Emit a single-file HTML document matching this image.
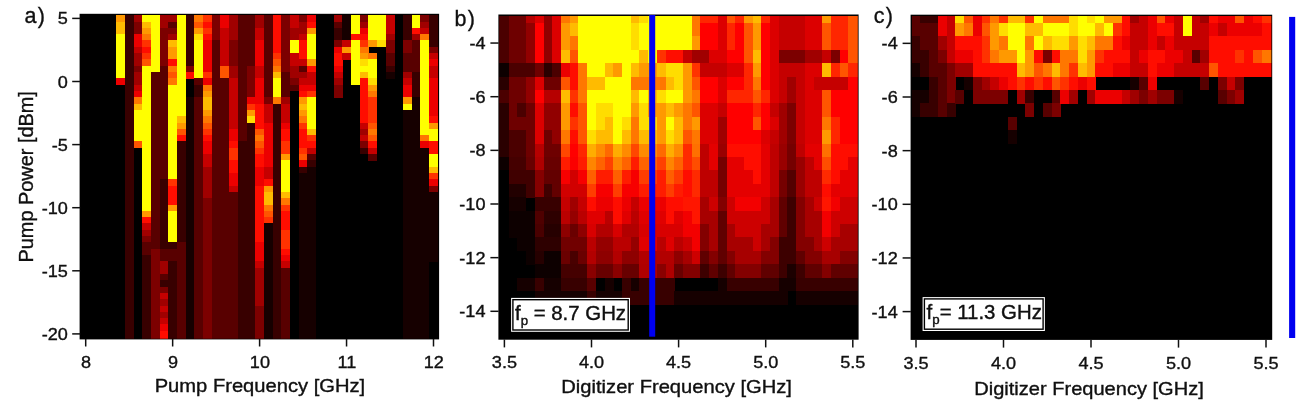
<!DOCTYPE html>
<html><head><meta charset="utf-8"><title>figure</title>
<style>html,body{margin:0;padding:0;background:#fff}svg{display:block}svg text{font-family:"Liberation Sans",sans-serif}</style></head>
<body>
<svg width="1306" height="409" viewBox="0 0 1306 409" >
<defs><filter id="bl" x="-2%" y="-2%" width="104%" height="104%"><feGaussianBlur stdDeviation="0.7"/></filter></defs>
<rect width="1306" height="409" fill="#fff"/>
<rect x="79.60" y="13.80" width="359.50" height="325.60" fill="#000"/>
<clipPath id="cpa"><rect x="80.40" y="14.60" width="357.90" height="324.20"/></clipPath>
<g clip-path="url(#cpa)"><g filter="url(#bl)" shape-rendering="crispEdges">
<rect x="116.13" y="14.80" width="8.99" height="7.06" fill="#ff9900"/>
<rect x="116.13" y="21.56" width="8.99" height="12.92" fill="#ffbb00"/>
<rect x="116.13" y="34.18" width="8.99" height="44.47" fill="#ffff00"/>
<rect x="116.13" y="78.35" width="8.99" height="6.61" fill="#ec0000"/>
<rect x="124.82" y="14.80" width="8.99" height="324.40" fill="#380000"/>
<rect x="133.52" y="14.80" width="9.00" height="7.06" fill="#a00000"/>
<rect x="133.52" y="21.56" width="9.00" height="12.92" fill="#7c0000"/>
<rect x="133.52" y="34.18" width="9.00" height="12.92" fill="#ec0000"/>
<rect x="133.52" y="46.80" width="9.00" height="6.61" fill="#c50000"/>
<rect x="133.52" y="53.11" width="9.00" height="12.92" fill="#a00000"/>
<rect x="133.52" y="65.73" width="9.00" height="6.61" fill="#7c0000"/>
<rect x="133.52" y="72.04" width="9.00" height="12.92" fill="#a00000"/>
<rect x="133.52" y="84.66" width="9.00" height="6.61" fill="#c50000"/>
<rect x="133.52" y="90.97" width="9.00" height="6.61" fill="#ec0000"/>
<rect x="133.52" y="97.28" width="9.00" height="6.61" fill="#ff7700"/>
<rect x="133.52" y="103.59" width="9.00" height="6.61" fill="#ffbb00"/>
<rect x="133.52" y="109.90" width="9.00" height="31.85" fill="#ffff00"/>
<rect x="133.52" y="141.45" width="9.00" height="6.61" fill="#ff5500"/>
<rect x="142.22" y="14.80" width="8.99" height="7.06" fill="#ffff00"/>
<rect x="142.22" y="21.56" width="8.99" height="6.61" fill="#ffbb00"/>
<rect x="142.22" y="27.87" width="8.99" height="6.61" fill="#ff9900"/>
<rect x="142.22" y="34.18" width="8.99" height="6.61" fill="#ff7700"/>
<rect x="142.22" y="40.49" width="8.99" height="6.61" fill="#ff3300"/>
<rect x="142.22" y="46.80" width="8.99" height="6.61" fill="#ff1100"/>
<rect x="142.22" y="53.11" width="8.99" height="6.61" fill="#ff3300"/>
<rect x="142.22" y="59.42" width="8.99" height="6.61" fill="#ff5500"/>
<rect x="142.22" y="65.73" width="8.99" height="145.43" fill="#ffff00"/>
<rect x="142.22" y="210.86" width="8.99" height="6.61" fill="#ff9900"/>
<rect x="142.22" y="217.17" width="8.99" height="6.61" fill="#ff1100"/>
<rect x="142.22" y="223.48" width="8.99" height="6.61" fill="#c50000"/>
<rect x="142.22" y="229.79" width="8.99" height="6.61" fill="#a00000"/>
<rect x="142.22" y="236.10" width="8.99" height="6.61" fill="#7c0000"/>
<rect x="142.22" y="242.41" width="8.99" height="12.92" fill="#590000"/>
<rect x="142.22" y="255.03" width="8.99" height="84.17" fill="#380000"/>
<rect x="150.91" y="14.80" width="8.99" height="57.54" fill="#ffff00"/>
<rect x="150.91" y="72.04" width="8.99" height="176.98" fill="#590000"/>
<rect x="150.91" y="248.72" width="8.99" height="90.48" fill="#7c0000"/>
<rect x="159.60" y="14.80" width="9.00" height="13.37" fill="#a00000"/>
<rect x="159.60" y="27.87" width="9.00" height="38.16" fill="#7c0000"/>
<rect x="159.60" y="65.73" width="9.00" height="113.88" fill="#590000"/>
<rect x="159.60" y="179.31" width="9.00" height="69.71" fill="#380000"/>
<rect x="159.60" y="248.72" width="9.00" height="12.92" fill="#590000"/>
<rect x="159.60" y="261.34" width="9.00" height="12.92" fill="#a00000"/>
<rect x="159.60" y="273.96" width="9.00" height="6.61" fill="#590000"/>
<rect x="159.60" y="280.27" width="9.00" height="6.61" fill="#380000"/>
<rect x="159.60" y="286.58" width="9.00" height="6.61" fill="#7c0000"/>
<rect x="159.60" y="292.89" width="9.00" height="6.61" fill="#c50000"/>
<rect x="159.60" y="299.20" width="9.00" height="6.61" fill="#a00000"/>
<rect x="159.60" y="305.51" width="9.00" height="6.61" fill="#c50000"/>
<rect x="159.60" y="311.82" width="9.00" height="6.61" fill="#a00000"/>
<rect x="159.60" y="318.13" width="9.00" height="6.61" fill="#c50000"/>
<rect x="159.60" y="324.44" width="9.00" height="6.61" fill="#ec0000"/>
<rect x="159.60" y="330.75" width="9.00" height="8.45" fill="#ff1100"/>
<rect x="168.30" y="14.80" width="8.99" height="7.06" fill="#a00000"/>
<rect x="168.30" y="21.56" width="8.99" height="6.61" fill="#590000"/>
<rect x="168.30" y="27.87" width="8.99" height="6.61" fill="#7c0000"/>
<rect x="168.30" y="34.18" width="8.99" height="6.61" fill="#a00000"/>
<rect x="168.30" y="40.49" width="8.99" height="6.61" fill="#ffbb00"/>
<rect x="168.30" y="46.80" width="8.99" height="12.92" fill="#ff9900"/>
<rect x="168.30" y="59.42" width="8.99" height="6.61" fill="#ff1100"/>
<rect x="168.30" y="65.73" width="8.99" height="6.61" fill="#ff7700"/>
<rect x="168.30" y="72.04" width="8.99" height="6.61" fill="#ff5500"/>
<rect x="168.30" y="78.35" width="8.99" height="6.61" fill="#ff7700"/>
<rect x="168.30" y="84.66" width="8.99" height="94.95" fill="#ffff00"/>
<rect x="168.30" y="179.31" width="8.99" height="6.61" fill="#ff3300"/>
<rect x="168.30" y="185.62" width="8.99" height="19.23" fill="#ff1100"/>
<rect x="168.30" y="204.55" width="8.99" height="6.61" fill="#ff9900"/>
<rect x="168.30" y="210.86" width="8.99" height="31.85" fill="#ffff00"/>
<rect x="168.30" y="242.41" width="8.99" height="6.61" fill="#380000"/>
<rect x="168.30" y="248.72" width="8.99" height="12.92" fill="#590000"/>
<rect x="168.30" y="261.34" width="8.99" height="77.86" fill="#380000"/>
<rect x="177.00" y="14.80" width="8.99" height="101.71" fill="#ffff00"/>
<rect x="177.00" y="116.21" width="8.99" height="6.61" fill="#ffbb00"/>
<rect x="177.00" y="122.52" width="8.99" height="6.61" fill="#ff9900"/>
<rect x="177.00" y="128.83" width="8.99" height="6.61" fill="#ff5500"/>
<rect x="177.00" y="135.14" width="8.99" height="6.61" fill="#ff1100"/>
<rect x="177.00" y="141.45" width="8.99" height="101.26" fill="#380000"/>
<rect x="177.00" y="242.41" width="8.99" height="96.79" fill="#590000"/>
<rect x="185.69" y="14.80" width="8.99" height="51.23" fill="#380000"/>
<rect x="185.69" y="65.73" width="8.99" height="6.61" fill="#7c0000"/>
<rect x="185.69" y="72.04" width="8.99" height="6.61" fill="#ff1100"/>
<rect x="185.69" y="97.28" width="8.99" height="241.92" fill="#190000"/>
<rect x="194.38" y="14.80" width="8.99" height="7.06" fill="#ff7700"/>
<rect x="194.38" y="21.56" width="8.99" height="6.61" fill="#ff5500"/>
<rect x="194.38" y="27.87" width="8.99" height="6.61" fill="#ff9900"/>
<rect x="194.38" y="34.18" width="8.99" height="6.61" fill="#ffdd00"/>
<rect x="194.38" y="40.49" width="8.99" height="38.16" fill="#ffff00"/>
<rect x="194.38" y="78.35" width="8.99" height="6.61" fill="#590000"/>
<rect x="194.38" y="84.66" width="8.99" height="12.92" fill="#380000"/>
<rect x="194.38" y="97.28" width="8.99" height="241.92" fill="#590000"/>
<rect x="203.08" y="14.80" width="9.00" height="7.06" fill="#ff3300"/>
<rect x="203.08" y="21.56" width="9.00" height="6.61" fill="#ff1100"/>
<rect x="203.08" y="27.87" width="9.00" height="6.61" fill="#ff3300"/>
<rect x="203.08" y="34.18" width="9.00" height="6.61" fill="#ff1100"/>
<rect x="203.08" y="40.49" width="9.00" height="31.85" fill="#ec0000"/>
<rect x="203.08" y="72.04" width="9.00" height="6.61" fill="#ff3300"/>
<rect x="203.08" y="78.35" width="9.00" height="6.61" fill="#ec0000"/>
<rect x="203.08" y="84.66" width="9.00" height="6.61" fill="#ff7700"/>
<rect x="203.08" y="90.97" width="9.00" height="6.61" fill="#ff9900"/>
<rect x="203.08" y="97.28" width="9.00" height="12.92" fill="#ffbb00"/>
<rect x="203.08" y="109.90" width="9.00" height="6.61" fill="#ff9900"/>
<rect x="203.08" y="116.21" width="9.00" height="6.61" fill="#ff7700"/>
<rect x="203.08" y="122.52" width="9.00" height="6.61" fill="#ff5500"/>
<rect x="203.08" y="128.83" width="9.00" height="6.61" fill="#ff3300"/>
<rect x="203.08" y="135.14" width="9.00" height="6.61" fill="#ff1100"/>
<rect x="203.08" y="141.45" width="9.00" height="12.92" fill="#ec0000"/>
<rect x="203.08" y="154.07" width="9.00" height="12.92" fill="#c50000"/>
<rect x="203.08" y="166.69" width="9.00" height="31.85" fill="#a00000"/>
<rect x="203.08" y="198.24" width="9.00" height="140.96" fill="#7c0000"/>
<rect x="211.78" y="14.80" width="8.99" height="25.99" fill="#7c0000"/>
<rect x="211.78" y="40.49" width="8.99" height="298.71" fill="#590000"/>
<rect x="220.47" y="14.80" width="8.99" height="13.37" fill="#ec0000"/>
<rect x="220.47" y="27.87" width="8.99" height="38.16" fill="#c50000"/>
<rect x="220.47" y="65.73" width="8.99" height="12.92" fill="#ff5500"/>
<rect x="220.47" y="78.35" width="8.99" height="260.85" fill="#590000"/>
<rect x="229.16" y="14.80" width="8.99" height="25.99" fill="#a00000"/>
<rect x="229.16" y="40.49" width="8.99" height="25.54" fill="#7c0000"/>
<rect x="229.16" y="65.73" width="8.99" height="12.92" fill="#a00000"/>
<rect x="229.16" y="78.35" width="8.99" height="50.78" fill="#c50000"/>
<rect x="229.16" y="128.83" width="8.99" height="12.92" fill="#ec0000"/>
<rect x="229.16" y="141.45" width="8.99" height="6.61" fill="#ff1100"/>
<rect x="229.16" y="147.76" width="8.99" height="12.92" fill="#ff3300"/>
<rect x="229.16" y="160.38" width="8.99" height="12.92" fill="#ff1100"/>
<rect x="229.16" y="173.00" width="8.99" height="12.92" fill="#ec0000"/>
<rect x="229.16" y="185.62" width="8.99" height="6.61" fill="#c50000"/>
<rect x="229.16" y="191.93" width="8.99" height="147.27" fill="#590000"/>
<rect x="237.86" y="14.80" width="9.00" height="126.95" fill="#590000"/>
<rect x="237.86" y="141.45" width="9.00" height="197.75" fill="#380000"/>
<rect x="246.56" y="14.80" width="8.99" height="51.23" fill="#590000"/>
<rect x="246.56" y="65.73" width="8.99" height="31.85" fill="#7c0000"/>
<rect x="246.56" y="97.28" width="8.99" height="6.61" fill="#ec0000"/>
<rect x="246.56" y="103.59" width="8.99" height="6.61" fill="#ff3300"/>
<rect x="246.56" y="109.90" width="8.99" height="6.61" fill="#ff9900"/>
<rect x="246.56" y="116.21" width="8.99" height="6.61" fill="#ffdd00"/>
<rect x="246.56" y="122.52" width="8.99" height="216.68" fill="#380000"/>
<rect x="255.25" y="14.80" width="8.99" height="13.37" fill="#a00000"/>
<rect x="255.25" y="27.87" width="8.99" height="12.92" fill="#c50000"/>
<rect x="255.25" y="40.49" width="8.99" height="25.54" fill="#ec0000"/>
<rect x="255.25" y="65.73" width="8.99" height="12.92" fill="#c50000"/>
<rect x="255.25" y="78.35" width="8.99" height="25.54" fill="#ec0000"/>
<rect x="255.25" y="103.59" width="8.99" height="25.54" fill="#ff1100"/>
<rect x="255.25" y="128.83" width="8.99" height="6.61" fill="#ff5500"/>
<rect x="255.25" y="135.14" width="8.99" height="6.61" fill="#ff7700"/>
<rect x="255.25" y="141.45" width="8.99" height="6.61" fill="#ff5500"/>
<rect x="255.25" y="147.76" width="8.99" height="6.61" fill="#ff3300"/>
<rect x="255.25" y="154.07" width="8.99" height="12.92" fill="#ff1100"/>
<rect x="255.25" y="166.69" width="8.99" height="19.23" fill="#ec0000"/>
<rect x="255.25" y="185.62" width="8.99" height="57.09" fill="#ff1100"/>
<rect x="255.25" y="242.41" width="8.99" height="19.23" fill="#ec0000"/>
<rect x="255.25" y="261.34" width="8.99" height="6.61" fill="#c50000"/>
<rect x="255.25" y="267.65" width="8.99" height="38.16" fill="#a00000"/>
<rect x="255.25" y="305.51" width="8.99" height="33.69" fill="#7c0000"/>
<rect x="263.94" y="14.80" width="8.99" height="82.78" fill="#590000"/>
<rect x="263.94" y="97.28" width="8.99" height="6.61" fill="#7c0000"/>
<rect x="263.94" y="103.59" width="8.99" height="19.23" fill="#c50000"/>
<rect x="263.94" y="122.52" width="8.99" height="44.47" fill="#ec0000"/>
<rect x="263.94" y="166.69" width="8.99" height="12.92" fill="#c50000"/>
<rect x="263.94" y="179.31" width="8.99" height="6.61" fill="#ff1100"/>
<rect x="263.94" y="185.62" width="8.99" height="6.61" fill="#ff9900"/>
<rect x="263.94" y="191.93" width="8.99" height="12.92" fill="#ffbb00"/>
<rect x="263.94" y="204.55" width="8.99" height="6.61" fill="#ff7700"/>
<rect x="263.94" y="210.86" width="8.99" height="6.61" fill="#ff5500"/>
<rect x="263.94" y="217.17" width="8.99" height="6.61" fill="#ff3300"/>
<rect x="263.94" y="223.48" width="8.99" height="115.72" fill="#190000"/>
<rect x="272.64" y="14.80" width="9.00" height="38.61" fill="#ff1100"/>
<rect x="272.64" y="53.11" width="9.00" height="6.61" fill="#ff3300"/>
<rect x="272.64" y="59.42" width="9.00" height="6.61" fill="#ff5500"/>
<rect x="272.64" y="65.73" width="9.00" height="6.61" fill="#ff7700"/>
<rect x="272.64" y="72.04" width="9.00" height="6.61" fill="#ffbb00"/>
<rect x="272.64" y="78.35" width="9.00" height="19.23" fill="#ffff00"/>
<rect x="272.64" y="97.28" width="9.00" height="6.61" fill="#ff7700"/>
<rect x="272.64" y="103.59" width="9.00" height="235.61" fill="#380000"/>
<rect x="281.34" y="14.80" width="8.99" height="57.54" fill="#7c0000"/>
<rect x="281.34" y="72.04" width="8.99" height="25.54" fill="#590000"/>
<rect x="281.34" y="97.28" width="8.99" height="6.61" fill="#a00000"/>
<rect x="281.34" y="103.59" width="8.99" height="19.23" fill="#c50000"/>
<rect x="281.34" y="122.52" width="8.99" height="6.61" fill="#ec0000"/>
<rect x="281.34" y="128.83" width="8.99" height="12.92" fill="#ff1100"/>
<rect x="281.34" y="141.45" width="8.99" height="12.92" fill="#ff3300"/>
<rect x="281.34" y="154.07" width="8.99" height="6.61" fill="#ff9900"/>
<rect x="281.34" y="160.38" width="8.99" height="31.85" fill="#ffff00"/>
<rect x="281.34" y="191.93" width="8.99" height="6.61" fill="#ffbb00"/>
<rect x="281.34" y="198.24" width="8.99" height="6.61" fill="#ff7700"/>
<rect x="281.34" y="204.55" width="8.99" height="6.61" fill="#ff3300"/>
<rect x="281.34" y="210.86" width="8.99" height="19.23" fill="#ff1100"/>
<rect x="281.34" y="229.79" width="8.99" height="19.23" fill="#ff3300"/>
<rect x="281.34" y="248.72" width="8.99" height="6.61" fill="#ff1100"/>
<rect x="281.34" y="255.03" width="8.99" height="6.61" fill="#ec0000"/>
<rect x="281.34" y="261.34" width="8.99" height="6.61" fill="#c50000"/>
<rect x="281.34" y="267.65" width="8.99" height="71.55" fill="#590000"/>
<rect x="290.03" y="14.80" width="9.00" height="13.37" fill="#c50000"/>
<rect x="290.03" y="27.87" width="9.00" height="12.92" fill="#a00000"/>
<rect x="290.03" y="40.49" width="9.00" height="12.92" fill="#ffff00"/>
<rect x="290.03" y="53.11" width="9.00" height="12.92" fill="#c50000"/>
<rect x="290.03" y="65.73" width="9.00" height="12.92" fill="#a00000"/>
<rect x="290.03" y="78.35" width="9.00" height="6.61" fill="#7c0000"/>
<rect x="290.03" y="84.66" width="9.00" height="6.61" fill="#590000"/>
<rect x="298.73" y="14.80" width="8.99" height="7.06" fill="#7c0000"/>
<rect x="298.73" y="21.56" width="8.99" height="12.92" fill="#a00000"/>
<rect x="298.73" y="34.18" width="8.99" height="6.61" fill="#c50000"/>
<rect x="298.73" y="40.49" width="8.99" height="19.23" fill="#ff1100"/>
<rect x="298.73" y="59.42" width="8.99" height="6.61" fill="#c50000"/>
<rect x="298.73" y="65.73" width="8.99" height="6.61" fill="#590000"/>
<rect x="298.73" y="72.04" width="8.99" height="6.61" fill="#a00000"/>
<rect x="298.73" y="78.35" width="8.99" height="6.61" fill="#c50000"/>
<rect x="298.73" y="84.66" width="8.99" height="6.61" fill="#ec0000"/>
<rect x="298.73" y="90.97" width="8.99" height="6.61" fill="#ff1100"/>
<rect x="298.73" y="97.28" width="8.99" height="6.61" fill="#ff9900"/>
<rect x="298.73" y="103.59" width="8.99" height="6.61" fill="#ffbb00"/>
<rect x="298.73" y="109.90" width="8.99" height="6.61" fill="#ff9900"/>
<rect x="298.73" y="116.21" width="8.99" height="6.61" fill="#ff7700"/>
<rect x="298.73" y="122.52" width="8.99" height="6.61" fill="#ff3300"/>
<rect x="298.73" y="128.83" width="8.99" height="19.23" fill="#ff1100"/>
<rect x="298.73" y="147.76" width="8.99" height="6.61" fill="#ff3300"/>
<rect x="298.73" y="154.07" width="8.99" height="6.61" fill="#ff5500"/>
<rect x="298.73" y="160.38" width="8.99" height="6.61" fill="#ec0000"/>
<rect x="298.73" y="166.69" width="8.99" height="6.61" fill="#380000"/>
<rect x="298.73" y="173.00" width="8.99" height="166.20" fill="#190000"/>
<rect x="307.42" y="14.80" width="9.00" height="7.06" fill="#ec0000"/>
<rect x="307.42" y="21.56" width="9.00" height="6.61" fill="#ff1100"/>
<rect x="307.42" y="27.87" width="9.00" height="6.61" fill="#ff9900"/>
<rect x="307.42" y="34.18" width="9.00" height="25.54" fill="#ffff00"/>
<rect x="307.42" y="59.42" width="9.00" height="6.61" fill="#ff9900"/>
<rect x="307.42" y="65.73" width="9.00" height="6.61" fill="#ff1100"/>
<rect x="307.42" y="72.04" width="9.00" height="12.92" fill="#c50000"/>
<rect x="307.42" y="84.66" width="9.00" height="6.61" fill="#ec0000"/>
<rect x="307.42" y="90.97" width="9.00" height="6.61" fill="#ff3300"/>
<rect x="307.42" y="97.28" width="9.00" height="31.85" fill="#ffff00"/>
<rect x="307.42" y="128.83" width="9.00" height="6.61" fill="#ffbb00"/>
<rect x="307.42" y="135.14" width="9.00" height="6.61" fill="#ff3300"/>
<rect x="307.42" y="141.45" width="9.00" height="6.61" fill="#ff1100"/>
<rect x="307.42" y="147.76" width="9.00" height="6.61" fill="#c50000"/>
<rect x="307.42" y="154.07" width="9.00" height="6.61" fill="#590000"/>
<rect x="307.42" y="160.38" width="9.00" height="6.61" fill="#380000"/>
<rect x="307.42" y="166.69" width="9.00" height="172.51" fill="#190000"/>
<rect x="333.50" y="14.80" width="9.00" height="7.06" fill="#a00000"/>
<rect x="333.50" y="21.56" width="9.00" height="6.61" fill="#590000"/>
<rect x="333.50" y="27.87" width="9.00" height="12.92" fill="#380000"/>
<rect x="333.50" y="40.49" width="9.00" height="6.61" fill="#7c0000"/>
<rect x="333.50" y="46.80" width="9.00" height="6.61" fill="#ec0000"/>
<rect x="333.50" y="53.11" width="9.00" height="12.92" fill="#ff1100"/>
<rect x="333.50" y="65.73" width="9.00" height="6.61" fill="#ec0000"/>
<rect x="333.50" y="72.04" width="9.00" height="6.61" fill="#c50000"/>
<rect x="333.50" y="78.35" width="9.00" height="6.61" fill="#a00000"/>
<rect x="333.50" y="84.66" width="9.00" height="12.92" fill="#7c0000"/>
<rect x="342.20" y="14.80" width="8.99" height="25.99" fill="#190000"/>
<rect x="342.20" y="40.49" width="8.99" height="6.61" fill="#c50000"/>
<rect x="342.20" y="46.80" width="8.99" height="6.61" fill="#ff9900"/>
<rect x="342.20" y="53.11" width="8.99" height="6.61" fill="#c50000"/>
<rect x="350.89" y="14.80" width="9.00" height="19.68" fill="#ffff00"/>
<rect x="350.89" y="34.18" width="9.00" height="6.61" fill="#ff1100"/>
<rect x="350.89" y="40.49" width="9.00" height="44.47" fill="#ffff00"/>
<rect x="359.59" y="14.80" width="8.99" height="7.06" fill="#7c0000"/>
<rect x="359.59" y="21.56" width="8.99" height="6.61" fill="#a00000"/>
<rect x="359.59" y="27.87" width="8.99" height="6.61" fill="#ec0000"/>
<rect x="359.59" y="34.18" width="8.99" height="6.61" fill="#ff1100"/>
<rect x="359.59" y="40.49" width="8.99" height="6.61" fill="#ff3300"/>
<rect x="359.59" y="46.80" width="8.99" height="6.61" fill="#ff7700"/>
<rect x="359.59" y="53.11" width="8.99" height="6.61" fill="#ff9900"/>
<rect x="359.59" y="59.42" width="8.99" height="6.61" fill="#ffdd00"/>
<rect x="359.59" y="65.73" width="8.99" height="6.61" fill="#ffff00"/>
<rect x="359.59" y="72.04" width="8.99" height="6.61" fill="#ffbb00"/>
<rect x="359.59" y="78.35" width="8.99" height="44.47" fill="#ff1100"/>
<rect x="359.59" y="122.52" width="8.99" height="6.61" fill="#c50000"/>
<rect x="359.59" y="128.83" width="8.99" height="6.61" fill="#a00000"/>
<rect x="359.59" y="135.14" width="8.99" height="6.61" fill="#c50000"/>
<rect x="359.59" y="141.45" width="8.99" height="6.61" fill="#7c0000"/>
<rect x="359.59" y="147.76" width="8.99" height="6.61" fill="#380000"/>
<rect x="368.28" y="14.80" width="9.00" height="25.99" fill="#ffff00"/>
<rect x="368.28" y="40.49" width="9.00" height="6.61" fill="#ff9900"/>
<rect x="368.28" y="53.11" width="9.00" height="6.61" fill="#ff7700"/>
<rect x="368.28" y="59.42" width="9.00" height="19.23" fill="#ffff00"/>
<rect x="368.28" y="78.35" width="9.00" height="6.61" fill="#ffdd00"/>
<rect x="368.28" y="84.66" width="9.00" height="6.61" fill="#ff9900"/>
<rect x="368.28" y="90.97" width="9.00" height="6.61" fill="#ff7700"/>
<rect x="368.28" y="97.28" width="9.00" height="25.54" fill="#ff3300"/>
<rect x="368.28" y="122.52" width="9.00" height="6.61" fill="#ff5500"/>
<rect x="368.28" y="128.83" width="9.00" height="6.61" fill="#ff7700"/>
<rect x="368.28" y="135.14" width="9.00" height="6.61" fill="#ff5500"/>
<rect x="368.28" y="141.45" width="9.00" height="6.61" fill="#ff1100"/>
<rect x="368.28" y="147.76" width="9.00" height="6.61" fill="#c50000"/>
<rect x="368.28" y="154.07" width="9.00" height="6.61" fill="#590000"/>
<rect x="376.98" y="14.80" width="8.99" height="25.99" fill="#ffff00"/>
<rect x="376.98" y="40.49" width="8.99" height="6.61" fill="#ffdd00"/>
<rect x="385.67" y="14.80" width="9.00" height="19.68" fill="#c50000"/>
<rect x="385.67" y="34.18" width="9.00" height="6.61" fill="#a00000"/>
<rect x="385.67" y="40.49" width="9.00" height="12.92" fill="#7c0000"/>
<rect x="385.67" y="53.11" width="9.00" height="12.92" fill="#590000"/>
<rect x="385.67" y="65.73" width="9.00" height="6.61" fill="#380000"/>
<rect x="385.67" y="72.04" width="9.00" height="6.61" fill="#190000"/>
<rect x="403.07" y="14.80" width="8.99" height="25.99" fill="#380000"/>
<rect x="403.07" y="40.49" width="8.99" height="12.92" fill="#7c0000"/>
<rect x="403.07" y="53.11" width="8.99" height="19.23" fill="#590000"/>
<rect x="403.07" y="72.04" width="8.99" height="6.61" fill="#a00000"/>
<rect x="403.07" y="78.35" width="8.99" height="6.61" fill="#c50000"/>
<rect x="403.07" y="84.66" width="8.99" height="12.92" fill="#ec0000"/>
<rect x="403.07" y="97.28" width="8.99" height="6.61" fill="#ff9900"/>
<rect x="403.07" y="103.59" width="8.99" height="6.61" fill="#ffff00"/>
<rect x="403.07" y="109.90" width="8.99" height="229.30" fill="#190000"/>
<rect x="411.76" y="14.80" width="9.00" height="13.37" fill="#ffff00"/>
<rect x="411.76" y="27.87" width="9.00" height="6.61" fill="#ff1100"/>
<rect x="411.76" y="34.18" width="9.00" height="6.61" fill="#a00000"/>
<rect x="411.76" y="40.49" width="9.00" height="31.85" fill="#590000"/>
<rect x="411.76" y="72.04" width="9.00" height="25.54" fill="#380000"/>
<rect x="411.76" y="97.28" width="9.00" height="241.92" fill="#190000"/>
<rect x="420.46" y="14.80" width="8.99" height="7.06" fill="#7c0000"/>
<rect x="420.46" y="21.56" width="8.99" height="6.61" fill="#a00000"/>
<rect x="420.46" y="27.87" width="8.99" height="6.61" fill="#c50000"/>
<rect x="420.46" y="34.18" width="8.99" height="6.61" fill="#ff7700"/>
<rect x="420.46" y="40.49" width="8.99" height="94.95" fill="#ffff00"/>
<rect x="420.46" y="135.14" width="8.99" height="6.61" fill="#ff7700"/>
<rect x="420.46" y="141.45" width="8.99" height="6.61" fill="#ec0000"/>
<rect x="420.46" y="147.76" width="8.99" height="191.44" fill="#190000"/>
<rect x="429.15" y="14.80" width="9.25" height="32.30" fill="#380000"/>
<rect x="429.15" y="46.80" width="9.25" height="6.61" fill="#7c0000"/>
<rect x="429.15" y="53.11" width="9.25" height="6.61" fill="#c50000"/>
<rect x="429.15" y="59.42" width="9.25" height="6.61" fill="#ec0000"/>
<rect x="429.15" y="65.73" width="9.25" height="12.92" fill="#c50000"/>
<rect x="429.15" y="78.35" width="9.25" height="38.16" fill="#ec0000"/>
<rect x="429.15" y="116.21" width="9.25" height="6.61" fill="#ff1100"/>
<rect x="429.15" y="122.52" width="9.25" height="6.61" fill="#ff9900"/>
<rect x="429.15" y="128.83" width="9.25" height="12.92" fill="#ffff00"/>
<rect x="429.15" y="141.45" width="9.25" height="12.92" fill="#ff1100"/>
<rect x="429.15" y="154.07" width="9.25" height="12.92" fill="#ffff00"/>
<rect x="429.15" y="166.69" width="9.25" height="6.61" fill="#ffbb00"/>
<rect x="429.15" y="173.00" width="9.25" height="6.61" fill="#ff3300"/>
<rect x="429.15" y="179.31" width="9.25" height="6.61" fill="#ec0000"/>
<rect x="429.15" y="185.62" width="9.25" height="6.61" fill="#7c0000"/>
<rect x="429.15" y="191.93" width="9.25" height="69.71" fill="#190000"/>
</g></g>
<rect x="498.40" y="14.50" width="360.20" height="325.20" fill="#000"/>
<clipPath id="cpb"><rect x="499.20" y="15.30" width="358.60" height="323.80"/></clipPath>
<g clip-path="url(#cpb)"><g filter="url(#bl)" shape-rendering="crispEdges">
<rect x="499.40" y="15.50" width="9.66" height="47.91" fill="#4b0000"/>
<rect x="499.40" y="63.11" width="9.66" height="13.71" fill="#0e0000"/>
<rect x="499.40" y="76.52" width="9.66" height="13.71" fill="#2b0000"/>
<rect x="499.40" y="89.93" width="9.66" height="13.71" fill="#4b0000"/>
<rect x="499.40" y="103.34" width="9.66" height="53.94" fill="#2b0000"/>
<rect x="499.40" y="156.98" width="9.66" height="13.71" fill="#090000"/>
<rect x="499.40" y="170.39" width="9.66" height="27.12" fill="#060000"/>
<rect x="508.76" y="15.50" width="9.01" height="47.91" fill="#6e0000"/>
<rect x="508.76" y="63.11" width="9.01" height="13.71" fill="#4b0000"/>
<rect x="508.76" y="76.52" width="9.01" height="53.94" fill="#6e0000"/>
<rect x="508.76" y="130.16" width="9.01" height="27.12" fill="#4b0000"/>
<rect x="508.76" y="156.98" width="9.01" height="13.71" fill="#450000"/>
<rect x="508.76" y="170.39" width="9.01" height="13.71" fill="#410000"/>
<rect x="508.76" y="183.80" width="9.01" height="13.71" fill="#220000"/>
<rect x="508.76" y="197.21" width="9.01" height="13.71" fill="#190000"/>
<rect x="508.76" y="210.62" width="9.01" height="13.71" fill="#110000"/>
<rect x="508.76" y="224.03" width="9.01" height="13.71" fill="#0b0000"/>
<rect x="517.47" y="15.50" width="9.01" height="47.91" fill="#6e0000"/>
<rect x="517.47" y="63.11" width="9.01" height="13.71" fill="#4b0000"/>
<rect x="517.47" y="76.52" width="9.01" height="27.12" fill="#6e0000"/>
<rect x="517.47" y="103.34" width="9.01" height="13.71" fill="#4b0000"/>
<rect x="517.47" y="116.75" width="9.01" height="13.71" fill="#6e0000"/>
<rect x="517.47" y="130.16" width="9.01" height="27.12" fill="#4b0000"/>
<rect x="517.47" y="156.98" width="9.01" height="13.71" fill="#450000"/>
<rect x="517.47" y="170.39" width="9.01" height="13.71" fill="#410000"/>
<rect x="517.47" y="183.80" width="9.01" height="13.71" fill="#220000"/>
<rect x="517.47" y="197.21" width="9.01" height="13.71" fill="#190000"/>
<rect x="517.47" y="210.62" width="9.01" height="13.71" fill="#110000"/>
<rect x="517.47" y="224.03" width="9.01" height="13.71" fill="#0b0000"/>
<rect x="517.47" y="237.44" width="9.01" height="13.71" fill="#110000"/>
<rect x="517.47" y="277.67" width="9.01" height="13.71" fill="#190000"/>
<rect x="526.18" y="15.50" width="9.01" height="7.68" fill="#b60000"/>
<rect x="526.18" y="22.88" width="9.01" height="40.53" fill="#910000"/>
<rect x="526.18" y="63.11" width="9.01" height="13.71" fill="#4b0000"/>
<rect x="526.18" y="76.52" width="9.01" height="27.12" fill="#910000"/>
<rect x="526.18" y="103.34" width="9.01" height="53.94" fill="#6e0000"/>
<rect x="526.18" y="156.98" width="9.01" height="13.71" fill="#670000"/>
<rect x="526.18" y="170.39" width="9.01" height="27.12" fill="#410000"/>
<rect x="526.18" y="210.62" width="9.01" height="13.71" fill="#110000"/>
<rect x="526.18" y="224.03" width="9.01" height="13.71" fill="#0b0000"/>
<rect x="526.18" y="237.44" width="9.01" height="13.71" fill="#110000"/>
<rect x="526.18" y="250.85" width="9.01" height="13.71" fill="#0b0000"/>
<rect x="526.18" y="277.67" width="9.01" height="13.71" fill="#190000"/>
<rect x="534.89" y="15.50" width="9.01" height="7.68" fill="#dc0000"/>
<rect x="534.89" y="22.88" width="9.01" height="40.53" fill="#ff0300"/>
<rect x="534.89" y="63.11" width="9.01" height="13.71" fill="#6e0000"/>
<rect x="534.89" y="76.52" width="9.01" height="13.71" fill="#dc0000"/>
<rect x="534.89" y="89.93" width="9.01" height="13.71" fill="#ff0300"/>
<rect x="534.89" y="103.34" width="9.01" height="40.53" fill="#dc0000"/>
<rect x="534.89" y="143.57" width="9.01" height="13.71" fill="#b60000"/>
<rect x="534.89" y="156.98" width="9.01" height="13.71" fill="#af0000"/>
<rect x="534.89" y="170.39" width="9.01" height="27.12" fill="#860000"/>
<rect x="534.89" y="197.21" width="9.01" height="13.71" fill="#380000"/>
<rect x="534.89" y="210.62" width="9.01" height="13.71" fill="#4f0000"/>
<rect x="534.89" y="224.03" width="9.01" height="13.71" fill="#480000"/>
<rect x="534.89" y="237.44" width="9.01" height="13.71" fill="#2e0000"/>
<rect x="534.89" y="250.85" width="9.01" height="13.71" fill="#280000"/>
<rect x="534.89" y="264.26" width="9.01" height="13.71" fill="#090000"/>
<rect x="534.89" y="277.67" width="9.01" height="13.71" fill="#380000"/>
<rect x="534.89" y="291.08" width="9.01" height="27.12" fill="#190000"/>
<rect x="543.60" y="15.50" width="9.01" height="47.91" fill="#910000"/>
<rect x="543.60" y="63.11" width="9.01" height="13.71" fill="#2b0000"/>
<rect x="543.60" y="76.52" width="9.01" height="13.71" fill="#6e0000"/>
<rect x="543.60" y="89.93" width="9.01" height="13.71" fill="#b60000"/>
<rect x="543.60" y="103.34" width="9.01" height="27.12" fill="#910000"/>
<rect x="543.60" y="130.16" width="9.01" height="27.12" fill="#6e0000"/>
<rect x="543.60" y="156.98" width="9.01" height="13.71" fill="#670000"/>
<rect x="543.60" y="170.39" width="9.01" height="13.71" fill="#630000"/>
<rect x="543.60" y="183.80" width="9.01" height="13.71" fill="#410000"/>
<rect x="543.60" y="197.21" width="9.01" height="13.71" fill="#380000"/>
<rect x="543.60" y="210.62" width="9.01" height="13.71" fill="#2e0000"/>
<rect x="543.60" y="224.03" width="9.01" height="13.71" fill="#280000"/>
<rect x="543.60" y="237.44" width="9.01" height="13.71" fill="#2e0000"/>
<rect x="543.60" y="250.85" width="9.01" height="13.71" fill="#0b0000"/>
<rect x="543.60" y="264.26" width="9.01" height="13.71" fill="#090000"/>
<rect x="543.60" y="277.67" width="9.01" height="27.12" fill="#190000"/>
<rect x="552.31" y="15.50" width="9.01" height="47.91" fill="#dc0000"/>
<rect x="552.31" y="63.11" width="9.01" height="13.71" fill="#4b0000"/>
<rect x="552.31" y="76.52" width="9.01" height="13.71" fill="#6e0000"/>
<rect x="552.31" y="89.93" width="9.01" height="13.71" fill="#b60000"/>
<rect x="552.31" y="103.34" width="9.01" height="40.53" fill="#910000"/>
<rect x="552.31" y="143.57" width="9.01" height="13.71" fill="#6e0000"/>
<rect x="552.31" y="156.98" width="9.01" height="13.71" fill="#670000"/>
<rect x="552.31" y="170.39" width="9.01" height="27.12" fill="#630000"/>
<rect x="552.31" y="197.21" width="9.01" height="13.71" fill="#380000"/>
<rect x="552.31" y="210.62" width="9.01" height="13.71" fill="#2e0000"/>
<rect x="552.31" y="224.03" width="9.01" height="13.71" fill="#280000"/>
<rect x="552.31" y="237.44" width="9.01" height="13.71" fill="#2e0000"/>
<rect x="552.31" y="250.85" width="9.01" height="13.71" fill="#0b0000"/>
<rect x="552.31" y="264.26" width="9.01" height="13.71" fill="#090000"/>
<rect x="552.31" y="277.67" width="9.01" height="27.12" fill="#190000"/>
<rect x="561.02" y="15.50" width="9.01" height="7.68" fill="#ff7700"/>
<rect x="561.02" y="22.88" width="9.01" height="27.12" fill="#ff9900"/>
<rect x="561.02" y="49.70" width="9.01" height="13.71" fill="#ffbb00"/>
<rect x="561.02" y="63.11" width="9.01" height="13.71" fill="#ec0000"/>
<rect x="561.02" y="76.52" width="9.01" height="13.71" fill="#ff5500"/>
<rect x="561.02" y="89.93" width="9.01" height="13.71" fill="#ffbb00"/>
<rect x="561.02" y="103.34" width="9.01" height="27.12" fill="#ff9900"/>
<rect x="561.02" y="130.16" width="9.01" height="13.71" fill="#ff7700"/>
<rect x="561.02" y="143.57" width="9.01" height="13.71" fill="#ff4700"/>
<rect x="561.02" y="156.98" width="9.01" height="13.71" fill="#ff1f00"/>
<rect x="561.02" y="170.39" width="9.01" height="13.71" fill="#f70000"/>
<rect x="561.02" y="183.80" width="9.01" height="13.71" fill="#d10000"/>
<rect x="561.02" y="197.21" width="9.01" height="13.71" fill="#c50000"/>
<rect x="561.02" y="210.62" width="9.01" height="13.71" fill="#ba0000"/>
<rect x="561.02" y="224.03" width="9.01" height="13.71" fill="#8e0000"/>
<rect x="561.02" y="237.44" width="9.01" height="13.71" fill="#710000"/>
<rect x="561.02" y="250.85" width="9.01" height="13.71" fill="#6a0000"/>
<rect x="561.02" y="264.26" width="9.01" height="13.71" fill="#450000"/>
<rect x="561.02" y="277.67" width="9.01" height="13.71" fill="#380000"/>
<rect x="561.02" y="291.08" width="9.01" height="13.71" fill="#190000"/>
<rect x="569.73" y="15.50" width="9.01" height="7.68" fill="#ff9900"/>
<rect x="569.73" y="22.88" width="9.01" height="13.71" fill="#ffbb00"/>
<rect x="569.73" y="36.29" width="9.01" height="13.71" fill="#ff7700"/>
<rect x="569.73" y="49.70" width="9.01" height="13.71" fill="#ff5500"/>
<rect x="569.73" y="63.11" width="9.01" height="27.12" fill="#ff1100"/>
<rect x="569.73" y="89.93" width="9.01" height="13.71" fill="#ff3300"/>
<rect x="569.73" y="103.34" width="9.01" height="13.71" fill="#ff1100"/>
<rect x="569.73" y="116.75" width="9.01" height="13.71" fill="#ff3300"/>
<rect x="569.73" y="130.16" width="9.01" height="13.71" fill="#ff1100"/>
<rect x="569.73" y="143.57" width="9.01" height="13.71" fill="#ff0300"/>
<rect x="569.73" y="156.98" width="9.01" height="13.71" fill="#fb0000"/>
<rect x="569.73" y="170.39" width="9.01" height="27.12" fill="#d10000"/>
<rect x="569.73" y="197.21" width="9.01" height="13.71" fill="#a00000"/>
<rect x="569.73" y="210.62" width="9.01" height="13.71" fill="#950000"/>
<rect x="569.73" y="224.03" width="9.01" height="13.71" fill="#6a0000"/>
<rect x="569.73" y="237.44" width="9.01" height="13.71" fill="#710000"/>
<rect x="569.73" y="250.85" width="9.01" height="13.71" fill="#480000"/>
<rect x="569.73" y="264.26" width="9.01" height="13.71" fill="#450000"/>
<rect x="569.73" y="277.67" width="9.01" height="13.71" fill="#380000"/>
<rect x="569.73" y="291.08" width="9.01" height="13.71" fill="#190000"/>
<rect x="578.44" y="15.50" width="9.01" height="47.91" fill="#ffff00"/>
<rect x="578.44" y="63.11" width="9.01" height="40.53" fill="#ff7700"/>
<rect x="578.44" y="103.34" width="9.01" height="40.53" fill="#ff5500"/>
<rect x="578.44" y="143.57" width="9.01" height="13.71" fill="#ff2500"/>
<rect x="578.44" y="156.98" width="9.01" height="13.71" fill="#ff1f00"/>
<rect x="578.44" y="170.39" width="9.01" height="13.71" fill="#f70000"/>
<rect x="578.44" y="183.80" width="9.01" height="13.71" fill="#d10000"/>
<rect x="578.44" y="197.21" width="9.01" height="13.71" fill="#c50000"/>
<rect x="578.44" y="210.62" width="9.01" height="13.71" fill="#ba0000"/>
<rect x="578.44" y="224.03" width="9.01" height="13.71" fill="#8e0000"/>
<rect x="578.44" y="237.44" width="9.01" height="13.71" fill="#710000"/>
<rect x="578.44" y="250.85" width="9.01" height="13.71" fill="#6a0000"/>
<rect x="578.44" y="264.26" width="9.01" height="13.71" fill="#450000"/>
<rect x="578.44" y="277.67" width="9.01" height="13.71" fill="#380000"/>
<rect x="578.44" y="291.08" width="9.01" height="13.71" fill="#190000"/>
<rect x="587.15" y="15.50" width="9.01" height="61.32" fill="#ffff00"/>
<rect x="587.15" y="76.52" width="9.01" height="13.71" fill="#ffbb00"/>
<rect x="587.15" y="89.93" width="9.01" height="40.53" fill="#ffff00"/>
<rect x="587.15" y="130.16" width="9.01" height="13.71" fill="#ffdd00"/>
<rect x="587.15" y="143.57" width="9.01" height="13.71" fill="#ffad00"/>
<rect x="587.15" y="156.98" width="9.01" height="13.71" fill="#ff8500"/>
<rect x="587.15" y="170.39" width="9.01" height="13.71" fill="#ff5f00"/>
<rect x="587.15" y="183.80" width="9.01" height="13.71" fill="#ff3d00"/>
<rect x="587.15" y="197.21" width="9.01" height="13.71" fill="#ff1100"/>
<rect x="587.15" y="210.62" width="9.01" height="13.71" fill="#e00000"/>
<rect x="587.15" y="224.03" width="9.01" height="13.71" fill="#d80000"/>
<rect x="587.15" y="237.44" width="9.01" height="13.71" fill="#ba0000"/>
<rect x="587.15" y="250.85" width="9.01" height="13.71" fill="#b20000"/>
<rect x="587.15" y="264.26" width="9.01" height="13.71" fill="#8a0000"/>
<rect x="587.15" y="277.67" width="9.01" height="13.71" fill="#590000"/>
<rect x="587.15" y="291.08" width="9.01" height="13.71" fill="#380000"/>
<rect x="595.86" y="15.50" width="9.01" height="61.32" fill="#ffff00"/>
<rect x="595.86" y="76.52" width="9.01" height="13.71" fill="#ffbb00"/>
<rect x="595.86" y="89.93" width="9.01" height="13.71" fill="#ffff00"/>
<rect x="595.86" y="103.34" width="9.01" height="27.12" fill="#ffdd00"/>
<rect x="595.86" y="130.16" width="9.01" height="13.71" fill="#ffbb00"/>
<rect x="595.86" y="143.57" width="9.01" height="13.71" fill="#ff8b00"/>
<rect x="595.86" y="156.98" width="9.01" height="13.71" fill="#ff6300"/>
<rect x="595.86" y="170.39" width="9.01" height="13.71" fill="#ff1b00"/>
<rect x="595.86" y="183.80" width="9.01" height="13.71" fill="#f70000"/>
<rect x="595.86" y="197.21" width="9.01" height="13.71" fill="#ec0000"/>
<rect x="595.86" y="210.62" width="9.01" height="13.71" fill="#e00000"/>
<rect x="595.86" y="224.03" width="9.01" height="13.71" fill="#b20000"/>
<rect x="595.86" y="237.44" width="9.01" height="13.71" fill="#950000"/>
<rect x="595.86" y="250.85" width="9.01" height="13.71" fill="#8e0000"/>
<rect x="595.86" y="264.26" width="9.01" height="13.71" fill="#670000"/>
<rect x="595.86" y="291.08" width="9.01" height="13.71" fill="#190000"/>
<rect x="604.57" y="15.50" width="9.01" height="47.91" fill="#ffff00"/>
<rect x="604.57" y="63.11" width="9.01" height="13.71" fill="#ffbb00"/>
<rect x="604.57" y="76.52" width="9.01" height="27.12" fill="#ffff00"/>
<rect x="604.57" y="103.34" width="9.01" height="13.71" fill="#ffdd00"/>
<rect x="604.57" y="116.75" width="9.01" height="27.12" fill="#ffbb00"/>
<rect x="604.57" y="143.57" width="9.01" height="13.71" fill="#ff6900"/>
<rect x="604.57" y="156.98" width="9.01" height="13.71" fill="#ff4100"/>
<rect x="604.57" y="170.39" width="9.01" height="13.71" fill="#ff1b00"/>
<rect x="604.57" y="183.80" width="9.01" height="13.71" fill="#f70000"/>
<rect x="604.57" y="197.21" width="9.01" height="13.71" fill="#ec0000"/>
<rect x="604.57" y="210.62" width="9.01" height="13.71" fill="#ba0000"/>
<rect x="604.57" y="224.03" width="9.01" height="13.71" fill="#b20000"/>
<rect x="604.57" y="237.44" width="9.01" height="13.71" fill="#950000"/>
<rect x="604.57" y="250.85" width="9.01" height="13.71" fill="#8e0000"/>
<rect x="604.57" y="264.26" width="9.01" height="13.71" fill="#670000"/>
<rect x="604.57" y="277.67" width="9.01" height="27.12" fill="#190000"/>
<rect x="613.28" y="15.50" width="9.01" height="47.91" fill="#ffff00"/>
<rect x="613.28" y="63.11" width="9.01" height="13.71" fill="#ff9900"/>
<rect x="613.28" y="76.52" width="9.01" height="67.35" fill="#ffff00"/>
<rect x="613.28" y="143.57" width="9.01" height="13.71" fill="#ffad00"/>
<rect x="613.28" y="156.98" width="9.01" height="13.71" fill="#ff8500"/>
<rect x="613.28" y="170.39" width="9.01" height="13.71" fill="#ff5f00"/>
<rect x="613.28" y="183.80" width="9.01" height="13.71" fill="#ff3d00"/>
<rect x="613.28" y="197.21" width="9.01" height="13.71" fill="#ff1100"/>
<rect x="613.28" y="210.62" width="9.01" height="13.71" fill="#ff0700"/>
<rect x="613.28" y="224.03" width="9.01" height="13.71" fill="#d80000"/>
<rect x="613.28" y="237.44" width="9.01" height="13.71" fill="#ba0000"/>
<rect x="613.28" y="250.85" width="9.01" height="13.71" fill="#b20000"/>
<rect x="613.28" y="264.26" width="9.01" height="13.71" fill="#8a0000"/>
<rect x="613.28" y="291.08" width="9.01" height="13.71" fill="#190000"/>
<rect x="621.99" y="15.50" width="9.01" height="101.55" fill="#ffff00"/>
<rect x="621.99" y="116.75" width="9.01" height="13.71" fill="#ffdd00"/>
<rect x="621.99" y="130.16" width="9.01" height="13.71" fill="#ffbb00"/>
<rect x="621.99" y="143.57" width="9.01" height="13.71" fill="#ff8b00"/>
<rect x="621.99" y="156.98" width="9.01" height="13.71" fill="#ff6300"/>
<rect x="621.99" y="170.39" width="9.01" height="13.71" fill="#ff1b00"/>
<rect x="621.99" y="183.80" width="9.01" height="13.71" fill="#f70000"/>
<rect x="621.99" y="197.21" width="9.01" height="13.71" fill="#ec0000"/>
<rect x="621.99" y="210.62" width="9.01" height="13.71" fill="#e00000"/>
<rect x="621.99" y="224.03" width="9.01" height="13.71" fill="#b20000"/>
<rect x="621.99" y="237.44" width="9.01" height="13.71" fill="#ba0000"/>
<rect x="621.99" y="250.85" width="9.01" height="13.71" fill="#8e0000"/>
<rect x="621.99" y="264.26" width="9.01" height="13.71" fill="#670000"/>
<rect x="621.99" y="277.67" width="9.01" height="27.12" fill="#380000"/>
<rect x="630.70" y="15.50" width="9.01" height="7.68" fill="#ffbb00"/>
<rect x="630.70" y="22.88" width="9.01" height="27.12" fill="#ffdd00"/>
<rect x="630.70" y="49.70" width="9.01" height="13.71" fill="#ffff00"/>
<rect x="630.70" y="63.11" width="9.01" height="13.71" fill="#ffbb00"/>
<rect x="630.70" y="76.52" width="9.01" height="13.71" fill="#ff7700"/>
<rect x="630.70" y="89.93" width="9.01" height="13.71" fill="#ffbb00"/>
<rect x="630.70" y="103.34" width="9.01" height="13.71" fill="#ff9900"/>
<rect x="630.70" y="116.75" width="9.01" height="27.12" fill="#ff7700"/>
<rect x="630.70" y="143.57" width="9.01" height="13.71" fill="#ff4700"/>
<rect x="630.70" y="156.98" width="9.01" height="13.71" fill="#ff1f00"/>
<rect x="630.70" y="170.39" width="9.01" height="27.12" fill="#f70000"/>
<rect x="630.70" y="197.21" width="9.01" height="13.71" fill="#c50000"/>
<rect x="630.70" y="210.62" width="9.01" height="13.71" fill="#ba0000"/>
<rect x="630.70" y="224.03" width="9.01" height="13.71" fill="#b20000"/>
<rect x="630.70" y="237.44" width="9.01" height="13.71" fill="#950000"/>
<rect x="630.70" y="250.85" width="9.01" height="13.71" fill="#8e0000"/>
<rect x="630.70" y="264.26" width="9.01" height="13.71" fill="#670000"/>
<rect x="630.70" y="277.67" width="9.01" height="13.71" fill="#190000"/>
<rect x="630.70" y="291.08" width="9.01" height="13.71" fill="#380000"/>
<rect x="639.41" y="15.50" width="9.01" height="7.68" fill="#ffdd00"/>
<rect x="639.41" y="22.88" width="9.01" height="27.12" fill="#ffff00"/>
<rect x="639.41" y="49.70" width="9.01" height="13.71" fill="#ffbb00"/>
<rect x="639.41" y="63.11" width="9.01" height="13.71" fill="#ff9900"/>
<rect x="639.41" y="76.52" width="9.01" height="13.71" fill="#ff7700"/>
<rect x="639.41" y="89.93" width="9.01" height="13.71" fill="#ffff00"/>
<rect x="639.41" y="103.34" width="9.01" height="27.12" fill="#ffdd00"/>
<rect x="639.41" y="130.16" width="9.01" height="13.71" fill="#ffbb00"/>
<rect x="639.41" y="143.57" width="9.01" height="13.71" fill="#ff8b00"/>
<rect x="639.41" y="156.98" width="9.01" height="13.71" fill="#ff6300"/>
<rect x="639.41" y="170.39" width="9.01" height="13.71" fill="#ff3d00"/>
<rect x="639.41" y="183.80" width="9.01" height="13.71" fill="#ff1b00"/>
<rect x="639.41" y="197.21" width="9.01" height="13.71" fill="#ec0000"/>
<rect x="639.41" y="210.62" width="9.01" height="13.71" fill="#e00000"/>
<rect x="639.41" y="224.03" width="9.01" height="13.71" fill="#d80000"/>
<rect x="639.41" y="237.44" width="9.01" height="13.71" fill="#e00000"/>
<rect x="639.41" y="250.85" width="9.01" height="13.71" fill="#b20000"/>
<rect x="639.41" y="264.26" width="9.01" height="13.71" fill="#af0000"/>
<rect x="639.41" y="277.67" width="9.01" height="27.12" fill="#380000"/>
<rect x="648.12" y="15.50" width="9.01" height="47.91" fill="#ffff00"/>
<rect x="648.12" y="63.11" width="9.01" height="13.71" fill="#ff9900"/>
<rect x="648.12" y="76.52" width="9.01" height="13.71" fill="#ff7700"/>
<rect x="648.12" y="89.93" width="9.01" height="13.71" fill="#ffbb00"/>
<rect x="648.12" y="103.34" width="9.01" height="13.71" fill="#ff9900"/>
<rect x="648.12" y="116.75" width="9.01" height="13.71" fill="#ffdd00"/>
<rect x="648.12" y="130.16" width="9.01" height="13.71" fill="#ffbb00"/>
<rect x="648.12" y="143.57" width="9.01" height="13.71" fill="#ff8b00"/>
<rect x="648.12" y="156.98" width="9.01" height="13.71" fill="#ff6300"/>
<rect x="648.12" y="170.39" width="9.01" height="13.71" fill="#ff3d00"/>
<rect x="648.12" y="183.80" width="9.01" height="13.71" fill="#ff1b00"/>
<rect x="648.12" y="197.21" width="9.01" height="13.71" fill="#ec0000"/>
<rect x="648.12" y="210.62" width="9.01" height="13.71" fill="#e00000"/>
<rect x="648.12" y="224.03" width="9.01" height="13.71" fill="#d80000"/>
<rect x="648.12" y="237.44" width="9.01" height="13.71" fill="#e00000"/>
<rect x="648.12" y="250.85" width="9.01" height="13.71" fill="#b20000"/>
<rect x="648.12" y="264.26" width="9.01" height="13.71" fill="#af0000"/>
<rect x="648.12" y="277.67" width="9.01" height="27.12" fill="#380000"/>
<rect x="656.83" y="15.50" width="9.01" height="34.50" fill="#ffff00"/>
<rect x="656.83" y="49.70" width="9.01" height="13.71" fill="#ff3300"/>
<rect x="656.83" y="63.11" width="9.01" height="13.71" fill="#ffbb00"/>
<rect x="656.83" y="76.52" width="9.01" height="13.71" fill="#ff7700"/>
<rect x="656.83" y="89.93" width="9.01" height="13.71" fill="#ffdd00"/>
<rect x="656.83" y="103.34" width="9.01" height="40.53" fill="#ff9900"/>
<rect x="656.83" y="143.57" width="9.01" height="13.71" fill="#ff6900"/>
<rect x="656.83" y="156.98" width="9.01" height="13.71" fill="#ff4100"/>
<rect x="656.83" y="170.39" width="9.01" height="27.12" fill="#ff1b00"/>
<rect x="656.83" y="197.21" width="9.01" height="13.71" fill="#ec0000"/>
<rect x="656.83" y="210.62" width="9.01" height="13.71" fill="#e00000"/>
<rect x="656.83" y="224.03" width="9.01" height="13.71" fill="#d80000"/>
<rect x="656.83" y="237.44" width="9.01" height="13.71" fill="#ba0000"/>
<rect x="656.83" y="250.85" width="9.01" height="13.71" fill="#b20000"/>
<rect x="656.83" y="264.26" width="9.01" height="13.71" fill="#8a0000"/>
<rect x="656.83" y="277.67" width="9.01" height="27.12" fill="#380000"/>
<rect x="665.54" y="15.50" width="9.01" height="34.50" fill="#ffff00"/>
<rect x="665.54" y="49.70" width="9.01" height="13.71" fill="#ff1100"/>
<rect x="665.54" y="63.11" width="9.01" height="13.71" fill="#ffdd00"/>
<rect x="665.54" y="76.52" width="9.01" height="13.71" fill="#ffbb00"/>
<rect x="665.54" y="89.93" width="9.01" height="13.71" fill="#ffff00"/>
<rect x="665.54" y="103.34" width="9.01" height="13.71" fill="#ffbb00"/>
<rect x="665.54" y="116.75" width="9.01" height="13.71" fill="#ffff00"/>
<rect x="665.54" y="130.16" width="9.01" height="13.71" fill="#ffdd00"/>
<rect x="665.54" y="143.57" width="9.01" height="13.71" fill="#ffad00"/>
<rect x="665.54" y="156.98" width="9.01" height="13.71" fill="#ff8500"/>
<rect x="665.54" y="170.39" width="9.01" height="13.71" fill="#ff5f00"/>
<rect x="665.54" y="183.80" width="9.01" height="13.71" fill="#ff3d00"/>
<rect x="665.54" y="197.21" width="9.01" height="13.71" fill="#ff1100"/>
<rect x="665.54" y="210.62" width="9.01" height="13.71" fill="#ff0700"/>
<rect x="665.54" y="224.03" width="9.01" height="13.71" fill="#d80000"/>
<rect x="665.54" y="237.44" width="9.01" height="13.71" fill="#e00000"/>
<rect x="665.54" y="250.85" width="9.01" height="13.71" fill="#b20000"/>
<rect x="665.54" y="264.26" width="9.01" height="13.71" fill="#af0000"/>
<rect x="665.54" y="277.67" width="9.01" height="27.12" fill="#380000"/>
<rect x="674.25" y="15.50" width="9.01" height="34.50" fill="#ffff00"/>
<rect x="674.25" y="49.70" width="9.01" height="13.71" fill="#ff1100"/>
<rect x="674.25" y="63.11" width="9.01" height="27.12" fill="#ffdd00"/>
<rect x="674.25" y="89.93" width="9.01" height="13.71" fill="#ffff00"/>
<rect x="674.25" y="103.34" width="9.01" height="13.71" fill="#ff9900"/>
<rect x="674.25" y="116.75" width="9.01" height="27.12" fill="#ffbb00"/>
<rect x="674.25" y="143.57" width="9.01" height="13.71" fill="#ff8b00"/>
<rect x="674.25" y="156.98" width="9.01" height="13.71" fill="#ff6300"/>
<rect x="674.25" y="170.39" width="9.01" height="13.71" fill="#ff3d00"/>
<rect x="674.25" y="183.80" width="9.01" height="13.71" fill="#ff1b00"/>
<rect x="674.25" y="197.21" width="9.01" height="13.71" fill="#ff1100"/>
<rect x="674.25" y="210.62" width="9.01" height="13.71" fill="#e00000"/>
<rect x="674.25" y="224.03" width="9.01" height="13.71" fill="#d80000"/>
<rect x="674.25" y="237.44" width="9.01" height="13.71" fill="#ba0000"/>
<rect x="674.25" y="250.85" width="9.01" height="13.71" fill="#8e0000"/>
<rect x="674.25" y="264.26" width="9.01" height="13.71" fill="#670000"/>
<rect x="674.25" y="291.08" width="9.01" height="13.71" fill="#190000"/>
<rect x="682.96" y="15.50" width="9.01" height="34.50" fill="#ffff00"/>
<rect x="682.96" y="49.70" width="9.01" height="13.71" fill="#c50000"/>
<rect x="682.96" y="63.11" width="9.01" height="40.53" fill="#ff9900"/>
<rect x="682.96" y="103.34" width="9.01" height="27.12" fill="#ff7700"/>
<rect x="682.96" y="130.16" width="9.01" height="13.71" fill="#ff5500"/>
<rect x="682.96" y="143.57" width="9.01" height="27.12" fill="#ff2c00"/>
<rect x="682.96" y="170.39" width="9.01" height="27.12" fill="#ff0a00"/>
<rect x="682.96" y="197.21" width="9.01" height="13.71" fill="#ff1800"/>
<rect x="682.96" y="210.62" width="9.01" height="27.12" fill="#f30000"/>
<rect x="682.96" y="237.44" width="9.01" height="13.71" fill="#cd0000"/>
<rect x="682.96" y="250.85" width="9.01" height="13.71" fill="#a70000"/>
<rect x="682.96" y="264.26" width="9.01" height="13.71" fill="#830000"/>
<rect x="682.96" y="291.08" width="9.01" height="13.71" fill="#190000"/>
<rect x="691.67" y="15.50" width="9.01" height="21.09" fill="#ff7700"/>
<rect x="691.67" y="36.29" width="9.01" height="13.71" fill="#ff9900"/>
<rect x="691.67" y="49.70" width="9.01" height="13.71" fill="#a00000"/>
<rect x="691.67" y="63.11" width="9.01" height="13.71" fill="#ff3300"/>
<rect x="691.67" y="76.52" width="9.01" height="13.71" fill="#ff5500"/>
<rect x="691.67" y="89.93" width="9.01" height="13.71" fill="#ff7700"/>
<rect x="691.67" y="103.34" width="9.01" height="13.71" fill="#ff5500"/>
<rect x="691.67" y="116.75" width="9.01" height="13.71" fill="#ff9900"/>
<rect x="691.67" y="130.16" width="9.01" height="13.71" fill="#ff7700"/>
<rect x="691.67" y="143.57" width="9.01" height="13.71" fill="#ff7000"/>
<rect x="691.67" y="156.98" width="9.01" height="13.71" fill="#ff4e00"/>
<rect x="691.67" y="170.39" width="9.01" height="27.12" fill="#ff2c00"/>
<rect x="691.67" y="197.21" width="9.01" height="27.12" fill="#ff1800"/>
<rect x="691.67" y="224.03" width="9.01" height="27.12" fill="#f30000"/>
<rect x="691.67" y="250.85" width="9.01" height="13.71" fill="#cd0000"/>
<rect x="691.67" y="264.26" width="9.01" height="13.71" fill="#830000"/>
<rect x="691.67" y="291.08" width="9.01" height="13.71" fill="#190000"/>
<rect x="700.38" y="15.50" width="9.01" height="7.68" fill="#ff2500"/>
<rect x="700.38" y="22.88" width="9.01" height="27.12" fill="#ff0300"/>
<rect x="700.38" y="49.70" width="9.01" height="13.71" fill="#a00000"/>
<rect x="700.38" y="63.11" width="9.01" height="13.71" fill="#c50000"/>
<rect x="700.38" y="76.52" width="9.01" height="27.12" fill="#ff0300"/>
<rect x="700.38" y="103.34" width="9.01" height="40.53" fill="#dc0000"/>
<rect x="700.38" y="143.57" width="9.01" height="53.94" fill="#be0000"/>
<rect x="700.38" y="197.21" width="9.01" height="27.12" fill="#a70000"/>
<rect x="700.38" y="224.03" width="9.01" height="27.12" fill="#830000"/>
<rect x="700.38" y="250.85" width="9.01" height="13.71" fill="#600000"/>
<rect x="700.38" y="264.26" width="9.01" height="13.71" fill="#3e0000"/>
<rect x="700.38" y="291.08" width="9.01" height="13.71" fill="#190000"/>
<rect x="709.09" y="15.50" width="9.01" height="7.68" fill="#ff2500"/>
<rect x="709.09" y="22.88" width="9.01" height="27.12" fill="#ff0300"/>
<rect x="709.09" y="49.70" width="9.01" height="13.71" fill="#dc0000"/>
<rect x="709.09" y="63.11" width="9.01" height="13.71" fill="#c50000"/>
<rect x="709.09" y="76.52" width="9.01" height="27.12" fill="#ff0300"/>
<rect x="709.09" y="103.34" width="9.01" height="40.53" fill="#dc0000"/>
<rect x="709.09" y="143.57" width="9.01" height="27.12" fill="#e40000"/>
<rect x="709.09" y="170.39" width="9.01" height="27.12" fill="#be0000"/>
<rect x="709.09" y="197.21" width="9.01" height="13.71" fill="#cd0000"/>
<rect x="709.09" y="210.62" width="9.01" height="40.53" fill="#a70000"/>
<rect x="709.09" y="250.85" width="9.01" height="13.71" fill="#830000"/>
<rect x="709.09" y="264.26" width="9.01" height="13.71" fill="#600000"/>
<rect x="709.09" y="291.08" width="9.01" height="13.71" fill="#190000"/>
<rect x="717.80" y="15.50" width="9.01" height="47.91" fill="#dc0000"/>
<rect x="717.80" y="63.11" width="9.01" height="13.71" fill="#c50000"/>
<rect x="717.80" y="76.52" width="9.01" height="27.12" fill="#dc0000"/>
<rect x="717.80" y="103.34" width="9.01" height="13.71" fill="#c50000"/>
<rect x="717.80" y="116.75" width="9.01" height="27.12" fill="#a00000"/>
<rect x="717.80" y="143.57" width="9.01" height="13.71" fill="#990000"/>
<rect x="717.80" y="156.98" width="9.01" height="40.53" fill="#750000"/>
<rect x="717.80" y="197.21" width="9.01" height="13.71" fill="#830000"/>
<rect x="717.80" y="210.62" width="9.01" height="53.94" fill="#600000"/>
<rect x="717.80" y="264.26" width="9.01" height="13.71" fill="#3e0000"/>
<rect x="717.80" y="277.67" width="9.01" height="27.12" fill="#190000"/>
<rect x="726.51" y="15.50" width="9.01" height="7.68" fill="#ff5500"/>
<rect x="726.51" y="22.88" width="9.01" height="27.12" fill="#ff2500"/>
<rect x="726.51" y="49.70" width="9.01" height="13.71" fill="#ff0300"/>
<rect x="726.51" y="63.11" width="9.01" height="13.71" fill="#dc0000"/>
<rect x="726.51" y="76.52" width="9.01" height="13.71" fill="#ff0300"/>
<rect x="726.51" y="89.93" width="9.01" height="13.71" fill="#ff2500"/>
<rect x="726.51" y="103.34" width="9.01" height="40.53" fill="#ff0300"/>
<rect x="726.51" y="143.57" width="9.01" height="13.71" fill="#ff0a00"/>
<rect x="726.51" y="156.98" width="9.01" height="40.53" fill="#e40000"/>
<rect x="726.51" y="197.21" width="9.01" height="27.12" fill="#cd0000"/>
<rect x="726.51" y="224.03" width="9.01" height="27.12" fill="#a70000"/>
<rect x="726.51" y="250.85" width="9.01" height="13.71" fill="#830000"/>
<rect x="726.51" y="264.26" width="9.01" height="13.71" fill="#600000"/>
<rect x="726.51" y="277.67" width="9.01" height="13.71" fill="#380000"/>
<rect x="726.51" y="291.08" width="9.01" height="13.71" fill="#190000"/>
<rect x="735.22" y="15.50" width="9.01" height="7.68" fill="#ff2500"/>
<rect x="735.22" y="22.88" width="9.01" height="40.53" fill="#ff0300"/>
<rect x="735.22" y="63.11" width="9.01" height="13.71" fill="#dc0000"/>
<rect x="735.22" y="76.52" width="9.01" height="13.71" fill="#ff0300"/>
<rect x="735.22" y="89.93" width="9.01" height="13.71" fill="#ff2500"/>
<rect x="735.22" y="103.34" width="9.01" height="40.53" fill="#ff0300"/>
<rect x="735.22" y="143.57" width="9.01" height="13.71" fill="#ff0a00"/>
<rect x="735.22" y="156.98" width="9.01" height="40.53" fill="#e40000"/>
<rect x="735.22" y="197.21" width="9.01" height="13.71" fill="#f30000"/>
<rect x="735.22" y="210.62" width="9.01" height="27.12" fill="#cd0000"/>
<rect x="735.22" y="237.44" width="9.01" height="27.12" fill="#a70000"/>
<rect x="735.22" y="264.26" width="9.01" height="13.71" fill="#830000"/>
<rect x="735.22" y="277.67" width="9.01" height="13.71" fill="#380000"/>
<rect x="735.22" y="291.08" width="9.01" height="13.71" fill="#190000"/>
<rect x="743.93" y="15.50" width="9.01" height="7.68" fill="#ff9900"/>
<rect x="743.93" y="22.88" width="9.01" height="40.53" fill="#ff5500"/>
<rect x="743.93" y="63.11" width="9.01" height="40.53" fill="#ff2500"/>
<rect x="743.93" y="103.34" width="9.01" height="40.53" fill="#ff0300"/>
<rect x="743.93" y="143.57" width="9.01" height="27.12" fill="#ff0a00"/>
<rect x="743.93" y="170.39" width="9.01" height="27.12" fill="#e40000"/>
<rect x="743.93" y="197.21" width="9.01" height="13.71" fill="#f30000"/>
<rect x="743.93" y="210.62" width="9.01" height="27.12" fill="#cd0000"/>
<rect x="743.93" y="237.44" width="9.01" height="27.12" fill="#a70000"/>
<rect x="743.93" y="264.26" width="9.01" height="13.71" fill="#830000"/>
<rect x="743.93" y="277.67" width="9.01" height="13.71" fill="#380000"/>
<rect x="743.93" y="291.08" width="9.01" height="13.71" fill="#190000"/>
<rect x="752.64" y="15.50" width="9.01" height="7.68" fill="#ffbb00"/>
<rect x="752.64" y="22.88" width="9.01" height="27.12" fill="#ff9900"/>
<rect x="752.64" y="49.70" width="9.01" height="13.71" fill="#ffbb00"/>
<rect x="752.64" y="63.11" width="9.01" height="13.71" fill="#ff9900"/>
<rect x="752.64" y="76.52" width="9.01" height="13.71" fill="#ff7700"/>
<rect x="752.64" y="89.93" width="9.01" height="13.71" fill="#ff5500"/>
<rect x="752.64" y="103.34" width="9.01" height="13.71" fill="#ff2500"/>
<rect x="752.64" y="116.75" width="9.01" height="13.71" fill="#ff5500"/>
<rect x="752.64" y="130.16" width="9.01" height="13.71" fill="#ff0300"/>
<rect x="752.64" y="143.57" width="9.01" height="40.53" fill="#ff0a00"/>
<rect x="752.64" y="183.80" width="9.01" height="13.71" fill="#e40000"/>
<rect x="752.64" y="197.21" width="9.01" height="13.71" fill="#f30000"/>
<rect x="752.64" y="210.62" width="9.01" height="40.53" fill="#cd0000"/>
<rect x="752.64" y="250.85" width="9.01" height="13.71" fill="#a70000"/>
<rect x="752.64" y="264.26" width="9.01" height="13.71" fill="#830000"/>
<rect x="752.64" y="277.67" width="9.01" height="13.71" fill="#380000"/>
<rect x="752.64" y="291.08" width="9.01" height="13.71" fill="#190000"/>
<rect x="761.35" y="15.50" width="9.01" height="7.68" fill="#ff2500"/>
<rect x="761.35" y="22.88" width="9.01" height="67.35" fill="#ff0300"/>
<rect x="761.35" y="89.93" width="9.01" height="13.71" fill="#ff2500"/>
<rect x="761.35" y="103.34" width="9.01" height="27.12" fill="#ff0300"/>
<rect x="761.35" y="130.16" width="9.01" height="13.71" fill="#dc0000"/>
<rect x="761.35" y="143.57" width="9.01" height="53.94" fill="#e40000"/>
<rect x="761.35" y="197.21" width="9.01" height="27.12" fill="#cd0000"/>
<rect x="761.35" y="224.03" width="9.01" height="27.12" fill="#a70000"/>
<rect x="761.35" y="250.85" width="9.01" height="13.71" fill="#830000"/>
<rect x="761.35" y="264.26" width="9.01" height="13.71" fill="#600000"/>
<rect x="761.35" y="277.67" width="9.01" height="13.71" fill="#380000"/>
<rect x="761.35" y="291.08" width="9.01" height="13.71" fill="#190000"/>
<rect x="770.06" y="15.50" width="9.01" height="88.14" fill="#dc0000"/>
<rect x="770.06" y="103.34" width="9.01" height="13.71" fill="#c50000"/>
<rect x="770.06" y="116.75" width="9.01" height="13.71" fill="#dc0000"/>
<rect x="770.06" y="130.16" width="9.01" height="13.71" fill="#c50000"/>
<rect x="770.06" y="143.57" width="9.01" height="53.94" fill="#be0000"/>
<rect x="770.06" y="197.21" width="9.01" height="40.53" fill="#a70000"/>
<rect x="770.06" y="237.44" width="9.01" height="27.12" fill="#830000"/>
<rect x="770.06" y="264.26" width="9.01" height="13.71" fill="#600000"/>
<rect x="770.06" y="277.67" width="9.01" height="13.71" fill="#380000"/>
<rect x="770.06" y="291.08" width="9.01" height="13.71" fill="#190000"/>
<rect x="778.77" y="15.50" width="9.01" height="34.50" fill="#c50000"/>
<rect x="778.77" y="49.70" width="9.01" height="13.71" fill="#7c0000"/>
<rect x="778.77" y="63.11" width="9.01" height="40.53" fill="#c50000"/>
<rect x="778.77" y="103.34" width="9.01" height="40.53" fill="#a00000"/>
<rect x="778.77" y="143.57" width="9.01" height="27.12" fill="#990000"/>
<rect x="778.77" y="170.39" width="9.01" height="27.12" fill="#750000"/>
<rect x="778.77" y="197.21" width="9.01" height="40.53" fill="#600000"/>
<rect x="778.77" y="237.44" width="9.01" height="40.53" fill="#3e0000"/>
<rect x="778.77" y="277.67" width="9.01" height="27.12" fill="#190000"/>
<rect x="787.48" y="15.50" width="9.01" height="34.50" fill="#c50000"/>
<rect x="787.48" y="49.70" width="9.01" height="13.71" fill="#7c0000"/>
<rect x="787.48" y="63.11" width="9.01" height="13.71" fill="#c50000"/>
<rect x="787.48" y="76.52" width="9.01" height="27.12" fill="#a00000"/>
<rect x="787.48" y="103.34" width="9.01" height="40.53" fill="#7c0000"/>
<rect x="787.48" y="143.57" width="9.01" height="27.12" fill="#750000"/>
<rect x="787.48" y="170.39" width="9.01" height="27.12" fill="#520000"/>
<rect x="787.48" y="197.21" width="9.01" height="67.35" fill="#3e0000"/>
<rect x="787.48" y="264.26" width="9.01" height="13.71" fill="#1f0000"/>
<rect x="787.48" y="277.67" width="9.01" height="13.71" fill="#190000"/>
<rect x="796.19" y="15.50" width="9.01" height="34.50" fill="#c50000"/>
<rect x="796.19" y="49.70" width="9.01" height="13.71" fill="#7c0000"/>
<rect x="796.19" y="63.11" width="9.01" height="80.76" fill="#c50000"/>
<rect x="796.19" y="143.57" width="9.01" height="13.71" fill="#be0000"/>
<rect x="796.19" y="156.98" width="9.01" height="40.53" fill="#990000"/>
<rect x="796.19" y="197.21" width="9.01" height="53.94" fill="#830000"/>
<rect x="796.19" y="250.85" width="9.01" height="13.71" fill="#600000"/>
<rect x="796.19" y="264.26" width="9.01" height="13.71" fill="#3e0000"/>
<rect x="796.19" y="277.67" width="9.01" height="13.71" fill="#380000"/>
<rect x="796.19" y="291.08" width="9.01" height="13.71" fill="#190000"/>
<rect x="804.90" y="15.50" width="9.01" height="34.50" fill="#dc0000"/>
<rect x="804.90" y="49.70" width="9.01" height="13.71" fill="#a00000"/>
<rect x="804.90" y="63.11" width="9.01" height="80.76" fill="#dc0000"/>
<rect x="804.90" y="143.57" width="9.01" height="13.71" fill="#e40000"/>
<rect x="804.90" y="156.98" width="9.01" height="40.53" fill="#be0000"/>
<rect x="804.90" y="197.21" width="9.01" height="40.53" fill="#a70000"/>
<rect x="804.90" y="237.44" width="9.01" height="27.12" fill="#830000"/>
<rect x="804.90" y="264.26" width="9.01" height="13.71" fill="#600000"/>
<rect x="804.90" y="277.67" width="9.01" height="13.71" fill="#380000"/>
<rect x="804.90" y="291.08" width="9.01" height="13.71" fill="#190000"/>
<rect x="813.61" y="15.50" width="9.01" height="34.50" fill="#dc0000"/>
<rect x="813.61" y="49.70" width="9.01" height="13.71" fill="#a00000"/>
<rect x="813.61" y="63.11" width="9.01" height="13.71" fill="#dc0000"/>
<rect x="813.61" y="76.52" width="9.01" height="13.71" fill="#c50000"/>
<rect x="813.61" y="89.93" width="9.01" height="53.94" fill="#dc0000"/>
<rect x="813.61" y="143.57" width="9.01" height="27.12" fill="#e40000"/>
<rect x="813.61" y="170.39" width="9.01" height="27.12" fill="#be0000"/>
<rect x="813.61" y="197.21" width="9.01" height="13.71" fill="#cd0000"/>
<rect x="813.61" y="210.62" width="9.01" height="40.53" fill="#a70000"/>
<rect x="813.61" y="250.85" width="9.01" height="13.71" fill="#830000"/>
<rect x="813.61" y="264.26" width="9.01" height="13.71" fill="#600000"/>
<rect x="813.61" y="277.67" width="9.01" height="13.71" fill="#380000"/>
<rect x="813.61" y="291.08" width="9.01" height="13.71" fill="#190000"/>
<rect x="822.32" y="15.50" width="9.01" height="7.68" fill="#ff9900"/>
<rect x="822.32" y="22.88" width="9.01" height="27.12" fill="#ff5500"/>
<rect x="822.32" y="49.70" width="9.01" height="13.71" fill="#c50000"/>
<rect x="822.32" y="63.11" width="9.01" height="13.71" fill="#ffbb00"/>
<rect x="822.32" y="76.52" width="9.01" height="13.71" fill="#c50000"/>
<rect x="822.32" y="89.93" width="9.01" height="27.12" fill="#ff5500"/>
<rect x="822.32" y="116.75" width="9.01" height="13.71" fill="#ff7700"/>
<rect x="822.32" y="130.16" width="9.01" height="13.71" fill="#ff9900"/>
<rect x="822.32" y="143.57" width="9.01" height="13.71" fill="#ff7000"/>
<rect x="822.32" y="156.98" width="9.01" height="13.71" fill="#ff4e00"/>
<rect x="822.32" y="170.39" width="9.01" height="13.71" fill="#ff2c00"/>
<rect x="822.32" y="183.80" width="9.01" height="13.71" fill="#ff0a00"/>
<rect x="822.32" y="197.21" width="9.01" height="13.71" fill="#ff1800"/>
<rect x="822.32" y="210.62" width="9.01" height="27.12" fill="#f30000"/>
<rect x="822.32" y="237.44" width="9.01" height="13.71" fill="#cd0000"/>
<rect x="822.32" y="250.85" width="9.01" height="13.71" fill="#a70000"/>
<rect x="822.32" y="264.26" width="9.01" height="13.71" fill="#830000"/>
<rect x="822.32" y="277.67" width="9.01" height="13.71" fill="#380000"/>
<rect x="822.32" y="291.08" width="9.01" height="13.71" fill="#190000"/>
<rect x="831.03" y="15.50" width="9.01" height="34.50" fill="#ff2500"/>
<rect x="831.03" y="49.70" width="9.01" height="13.71" fill="#7c0000"/>
<rect x="831.03" y="63.11" width="9.01" height="13.71" fill="#ff2500"/>
<rect x="831.03" y="76.52" width="9.01" height="13.71" fill="#c50000"/>
<rect x="831.03" y="89.93" width="9.01" height="27.12" fill="#ff0300"/>
<rect x="831.03" y="116.75" width="9.01" height="27.12" fill="#ff2500"/>
<rect x="831.03" y="143.57" width="9.01" height="40.53" fill="#ff0a00"/>
<rect x="831.03" y="183.80" width="9.01" height="13.71" fill="#e40000"/>
<rect x="831.03" y="197.21" width="9.01" height="13.71" fill="#f30000"/>
<rect x="831.03" y="210.62" width="9.01" height="27.12" fill="#cd0000"/>
<rect x="831.03" y="237.44" width="9.01" height="27.12" fill="#a70000"/>
<rect x="831.03" y="264.26" width="9.01" height="13.71" fill="#600000"/>
<rect x="831.03" y="277.67" width="9.01" height="13.71" fill="#380000"/>
<rect x="831.03" y="291.08" width="9.01" height="13.71" fill="#190000"/>
<rect x="839.74" y="15.50" width="9.01" height="34.50" fill="#ff2500"/>
<rect x="839.74" y="49.70" width="9.01" height="13.71" fill="#ff0300"/>
<rect x="839.74" y="63.11" width="9.01" height="13.71" fill="#ff5500"/>
<rect x="839.74" y="76.52" width="9.01" height="13.71" fill="#c50000"/>
<rect x="839.74" y="89.93" width="9.01" height="53.94" fill="#ff0300"/>
<rect x="839.74" y="143.57" width="9.01" height="27.12" fill="#ff0a00"/>
<rect x="839.74" y="170.39" width="9.01" height="27.12" fill="#e40000"/>
<rect x="839.74" y="197.21" width="9.01" height="27.12" fill="#cd0000"/>
<rect x="839.74" y="224.03" width="9.01" height="27.12" fill="#a70000"/>
<rect x="839.74" y="250.85" width="9.01" height="13.71" fill="#830000"/>
<rect x="839.74" y="264.26" width="9.01" height="13.71" fill="#600000"/>
<rect x="839.74" y="277.67" width="9.01" height="13.71" fill="#380000"/>
<rect x="839.74" y="291.08" width="9.01" height="13.71" fill="#190000"/>
<rect x="848.45" y="15.50" width="9.45" height="47.91" fill="#ff5500"/>
<rect x="848.45" y="63.11" width="9.45" height="13.71" fill="#ff2500"/>
<rect x="848.45" y="76.52" width="9.45" height="67.35" fill="#ff0300"/>
<rect x="848.45" y="143.57" width="9.45" height="13.71" fill="#ff0a00"/>
<rect x="848.45" y="156.98" width="9.45" height="40.53" fill="#e40000"/>
<rect x="848.45" y="197.21" width="9.45" height="27.12" fill="#cd0000"/>
<rect x="848.45" y="224.03" width="9.45" height="27.12" fill="#a70000"/>
<rect x="848.45" y="250.85" width="9.45" height="13.71" fill="#830000"/>
<rect x="848.45" y="264.26" width="9.45" height="13.71" fill="#600000"/>
<rect x="848.45" y="277.67" width="9.45" height="13.71" fill="#380000"/>
<rect x="848.45" y="291.08" width="9.45" height="13.71" fill="#190000"/>
</g></g>
<rect x="910.60" y="14.70" width="361.60" height="325.20" fill="#000"/>
<clipPath id="cpc"><rect x="911.40" y="15.50" width="360.00" height="323.80"/></clipPath>
<g clip-path="url(#cpc)"><g filter="url(#bl)" shape-rendering="crispEdges">
<rect x="911.60" y="15.70" width="9.05" height="20.89" fill="#590000"/>
<rect x="911.60" y="36.29" width="9.05" height="27.12" fill="#380000"/>
<rect x="911.60" y="63.11" width="9.05" height="13.71" fill="#190000"/>
<rect x="911.60" y="89.93" width="9.05" height="27.12" fill="#190000"/>
<rect x="920.35" y="15.70" width="9.05" height="7.48" fill="#380000"/>
<rect x="920.35" y="22.88" width="9.05" height="27.12" fill="#590000"/>
<rect x="920.35" y="49.70" width="9.05" height="27.12" fill="#380000"/>
<rect x="920.35" y="89.93" width="9.05" height="13.71" fill="#190000"/>
<rect x="920.35" y="103.34" width="9.05" height="13.71" fill="#380000"/>
<rect x="929.10" y="15.70" width="9.05" height="7.48" fill="#380000"/>
<rect x="929.10" y="22.88" width="9.05" height="53.94" fill="#590000"/>
<rect x="929.10" y="76.52" width="9.05" height="40.53" fill="#380000"/>
<rect x="937.85" y="15.70" width="9.05" height="20.89" fill="#ec0000"/>
<rect x="937.85" y="36.29" width="9.05" height="13.71" fill="#a00000"/>
<rect x="937.85" y="49.70" width="9.05" height="13.71" fill="#7c0000"/>
<rect x="937.85" y="63.11" width="9.05" height="53.94" fill="#590000"/>
<rect x="946.60" y="15.70" width="9.05" height="47.71" fill="#c50000"/>
<rect x="946.60" y="63.11" width="9.05" height="40.53" fill="#7c0000"/>
<rect x="946.60" y="103.34" width="9.05" height="13.71" fill="#380000"/>
<rect x="955.35" y="15.70" width="9.05" height="7.48" fill="#ffdd00"/>
<rect x="955.35" y="22.88" width="9.05" height="13.71" fill="#ff9900"/>
<rect x="955.35" y="36.29" width="9.05" height="13.71" fill="#ff1100"/>
<rect x="955.35" y="49.70" width="9.05" height="13.71" fill="#ec0000"/>
<rect x="955.35" y="63.11" width="9.05" height="13.71" fill="#a00000"/>
<rect x="955.35" y="89.93" width="9.05" height="13.71" fill="#590000"/>
<rect x="964.10" y="15.70" width="9.05" height="7.48" fill="#ff5500"/>
<rect x="964.10" y="22.88" width="9.05" height="13.71" fill="#ff7700"/>
<rect x="964.10" y="36.29" width="9.05" height="13.71" fill="#ff1100"/>
<rect x="964.10" y="49.70" width="9.05" height="13.71" fill="#ec0000"/>
<rect x="964.10" y="63.11" width="9.05" height="13.71" fill="#a00000"/>
<rect x="964.10" y="76.52" width="9.05" height="13.71" fill="#190000"/>
<rect x="972.85" y="15.70" width="9.05" height="20.89" fill="#ec0000"/>
<rect x="972.85" y="36.29" width="9.05" height="40.53" fill="#ff1100"/>
<rect x="972.85" y="76.52" width="9.05" height="27.12" fill="#7c0000"/>
<rect x="981.60" y="15.70" width="9.05" height="7.48" fill="#ff3300"/>
<rect x="981.60" y="22.88" width="9.05" height="13.71" fill="#ff5500"/>
<rect x="981.60" y="36.29" width="9.05" height="27.12" fill="#ff3300"/>
<rect x="981.60" y="63.11" width="9.05" height="13.71" fill="#ff1100"/>
<rect x="981.60" y="76.52" width="9.05" height="13.71" fill="#a00000"/>
<rect x="981.60" y="89.93" width="9.05" height="13.71" fill="#7c0000"/>
<rect x="990.35" y="15.70" width="9.05" height="7.48" fill="#ff7700"/>
<rect x="990.35" y="22.88" width="9.05" height="27.12" fill="#ff9900"/>
<rect x="990.35" y="49.70" width="9.05" height="13.71" fill="#ff7700"/>
<rect x="990.35" y="63.11" width="9.05" height="13.71" fill="#ff1100"/>
<rect x="990.35" y="76.52" width="9.05" height="13.71" fill="#c50000"/>
<rect x="990.35" y="89.93" width="9.05" height="13.71" fill="#7c0000"/>
<rect x="999.10" y="15.70" width="9.05" height="7.48" fill="#ff3300"/>
<rect x="999.10" y="22.88" width="9.05" height="13.71" fill="#ffdd00"/>
<rect x="999.10" y="36.29" width="9.05" height="13.71" fill="#ff7700"/>
<rect x="999.10" y="49.70" width="9.05" height="13.71" fill="#ff9900"/>
<rect x="999.10" y="63.11" width="9.05" height="13.71" fill="#ff1100"/>
<rect x="999.10" y="76.52" width="9.05" height="13.71" fill="#ec0000"/>
<rect x="999.10" y="89.93" width="9.05" height="13.71" fill="#7c0000"/>
<rect x="1007.85" y="15.70" width="9.05" height="7.48" fill="#ffbb00"/>
<rect x="1007.85" y="22.88" width="9.05" height="27.12" fill="#ffff00"/>
<rect x="1007.85" y="49.70" width="9.05" height="13.71" fill="#ff9900"/>
<rect x="1007.85" y="63.11" width="9.05" height="27.12" fill="#ff1100"/>
<rect x="1007.85" y="116.75" width="9.05" height="13.71" fill="#590000"/>
<rect x="1007.85" y="130.16" width="9.05" height="13.71" fill="#190000"/>
<rect x="1016.60" y="15.70" width="9.05" height="7.48" fill="#ffbb00"/>
<rect x="1016.60" y="22.88" width="9.05" height="40.53" fill="#ffff00"/>
<rect x="1016.60" y="63.11" width="9.05" height="13.71" fill="#ffbb00"/>
<rect x="1016.60" y="76.52" width="9.05" height="13.71" fill="#ff3300"/>
<rect x="1016.60" y="89.93" width="9.05" height="13.71" fill="#a00000"/>
<rect x="1025.35" y="15.70" width="9.05" height="7.48" fill="#ff3300"/>
<rect x="1025.35" y="22.88" width="9.05" height="13.71" fill="#ffbb00"/>
<rect x="1025.35" y="36.29" width="9.05" height="13.71" fill="#ff7700"/>
<rect x="1025.35" y="49.70" width="9.05" height="27.12" fill="#ff9900"/>
<rect x="1025.35" y="76.52" width="9.05" height="13.71" fill="#ff1100"/>
<rect x="1025.35" y="89.93" width="9.05" height="13.71" fill="#380000"/>
<rect x="1025.35" y="103.34" width="9.05" height="13.71" fill="#7c0000"/>
<rect x="1034.10" y="15.70" width="9.05" height="7.48" fill="#ffff00"/>
<rect x="1034.10" y="22.88" width="9.05" height="13.71" fill="#ffbb00"/>
<rect x="1034.10" y="36.29" width="9.05" height="13.71" fill="#ffff00"/>
<rect x="1034.10" y="49.70" width="9.05" height="13.71" fill="#ff1100"/>
<rect x="1034.10" y="63.11" width="9.05" height="13.71" fill="#ff5500"/>
<rect x="1034.10" y="76.52" width="9.05" height="13.71" fill="#ff3300"/>
<rect x="1042.85" y="15.70" width="9.05" height="7.48" fill="#ff7700"/>
<rect x="1042.85" y="22.88" width="9.05" height="13.71" fill="#ffff00"/>
<rect x="1042.85" y="36.29" width="9.05" height="13.71" fill="#ffbb00"/>
<rect x="1042.85" y="49.70" width="9.05" height="13.71" fill="#7c0000"/>
<rect x="1042.85" y="63.11" width="9.05" height="13.71" fill="#ff7700"/>
<rect x="1042.85" y="76.52" width="9.05" height="13.71" fill="#ff1100"/>
<rect x="1042.85" y="103.34" width="9.05" height="13.71" fill="#590000"/>
<rect x="1051.60" y="15.70" width="9.05" height="7.48" fill="#ff7700"/>
<rect x="1051.60" y="22.88" width="9.05" height="13.71" fill="#ffff00"/>
<rect x="1051.60" y="36.29" width="9.05" height="13.71" fill="#ffdd00"/>
<rect x="1051.60" y="49.70" width="9.05" height="13.71" fill="#ff1100"/>
<rect x="1051.60" y="63.11" width="9.05" height="13.71" fill="#ffbb00"/>
<rect x="1051.60" y="76.52" width="9.05" height="13.71" fill="#ff5500"/>
<rect x="1051.60" y="89.93" width="9.05" height="13.71" fill="#590000"/>
<rect x="1051.60" y="103.34" width="9.05" height="13.71" fill="#7c0000"/>
<rect x="1060.35" y="15.70" width="9.05" height="7.48" fill="#ff7700"/>
<rect x="1060.35" y="22.88" width="9.05" height="13.71" fill="#ffff00"/>
<rect x="1060.35" y="36.29" width="9.05" height="13.71" fill="#ffdd00"/>
<rect x="1060.35" y="49.70" width="9.05" height="27.12" fill="#ff7700"/>
<rect x="1060.35" y="76.52" width="9.05" height="13.71" fill="#ff3300"/>
<rect x="1060.35" y="89.93" width="9.05" height="13.71" fill="#ec0000"/>
<rect x="1069.10" y="15.70" width="9.05" height="20.89" fill="#ffdd00"/>
<rect x="1069.10" y="36.29" width="9.05" height="13.71" fill="#ff9900"/>
<rect x="1069.10" y="49.70" width="9.05" height="13.71" fill="#ff7700"/>
<rect x="1069.10" y="63.11" width="9.05" height="13.71" fill="#ff3300"/>
<rect x="1069.10" y="76.52" width="9.05" height="13.71" fill="#ff1100"/>
<rect x="1069.10" y="89.93" width="9.05" height="13.71" fill="#a00000"/>
<rect x="1077.85" y="15.70" width="9.05" height="20.89" fill="#ffff00"/>
<rect x="1077.85" y="36.29" width="9.05" height="27.12" fill="#ffdd00"/>
<rect x="1077.85" y="63.11" width="9.05" height="13.71" fill="#ffbb00"/>
<rect x="1077.85" y="76.52" width="9.05" height="13.71" fill="#ec0000"/>
<rect x="1086.60" y="15.70" width="9.05" height="7.48" fill="#ffdd00"/>
<rect x="1086.60" y="22.88" width="9.05" height="13.71" fill="#ffff00"/>
<rect x="1086.60" y="36.29" width="9.05" height="13.71" fill="#ffbb00"/>
<rect x="1086.60" y="49.70" width="9.05" height="27.12" fill="#ff9900"/>
<rect x="1086.60" y="76.52" width="9.05" height="13.71" fill="#ff1100"/>
<rect x="1086.60" y="89.93" width="9.05" height="13.71" fill="#a00000"/>
<rect x="1095.35" y="15.70" width="9.05" height="7.48" fill="#ffff00"/>
<rect x="1095.35" y="22.88" width="9.05" height="13.71" fill="#ffbb00"/>
<rect x="1095.35" y="36.29" width="9.05" height="13.71" fill="#ff7700"/>
<rect x="1095.35" y="49.70" width="9.05" height="13.71" fill="#ff3300"/>
<rect x="1095.35" y="63.11" width="9.05" height="13.71" fill="#ff1100"/>
<rect x="1095.35" y="89.93" width="9.05" height="13.71" fill="#ec0000"/>
<rect x="1104.10" y="15.70" width="9.05" height="7.48" fill="#ff9900"/>
<rect x="1104.10" y="22.88" width="9.05" height="13.71" fill="#ffff00"/>
<rect x="1104.10" y="36.29" width="9.05" height="13.71" fill="#ff7700"/>
<rect x="1104.10" y="49.70" width="9.05" height="27.12" fill="#ff1100"/>
<rect x="1104.10" y="89.93" width="9.05" height="13.71" fill="#ec0000"/>
<rect x="1112.85" y="15.70" width="9.05" height="7.48" fill="#ff9900"/>
<rect x="1112.85" y="22.88" width="9.05" height="13.71" fill="#ff3300"/>
<rect x="1112.85" y="36.29" width="9.05" height="27.12" fill="#ff1100"/>
<rect x="1112.85" y="63.11" width="9.05" height="13.71" fill="#ec0000"/>
<rect x="1112.85" y="89.93" width="9.05" height="13.71" fill="#ec0000"/>
<rect x="1121.60" y="15.70" width="9.05" height="20.89" fill="#ff1100"/>
<rect x="1121.60" y="36.29" width="9.05" height="13.71" fill="#ec0000"/>
<rect x="1121.60" y="49.70" width="9.05" height="13.71" fill="#ff1100"/>
<rect x="1121.60" y="63.11" width="9.05" height="13.71" fill="#ec0000"/>
<rect x="1121.60" y="89.93" width="9.05" height="13.71" fill="#c50000"/>
<rect x="1130.35" y="15.70" width="9.05" height="7.48" fill="#a00000"/>
<rect x="1130.35" y="22.88" width="9.05" height="53.94" fill="#c50000"/>
<rect x="1130.35" y="76.52" width="9.05" height="13.71" fill="#190000"/>
<rect x="1130.35" y="89.93" width="9.05" height="13.71" fill="#a00000"/>
<rect x="1139.10" y="15.70" width="9.05" height="34.30" fill="#c50000"/>
<rect x="1139.10" y="49.70" width="9.05" height="13.71" fill="#ec0000"/>
<rect x="1139.10" y="63.11" width="9.05" height="13.71" fill="#c50000"/>
<rect x="1139.10" y="76.52" width="9.05" height="13.71" fill="#590000"/>
<rect x="1139.10" y="89.93" width="9.05" height="13.71" fill="#7c0000"/>
<rect x="1147.85" y="15.70" width="9.05" height="34.30" fill="#ec0000"/>
<rect x="1147.85" y="49.70" width="9.05" height="27.12" fill="#ff1100"/>
<rect x="1147.85" y="76.52" width="9.05" height="13.71" fill="#ec0000"/>
<rect x="1147.85" y="89.93" width="9.05" height="13.71" fill="#a00000"/>
<rect x="1156.60" y="15.70" width="9.05" height="7.48" fill="#ff5500"/>
<rect x="1156.60" y="22.88" width="9.05" height="13.71" fill="#ff1100"/>
<rect x="1156.60" y="36.29" width="9.05" height="13.71" fill="#c50000"/>
<rect x="1156.60" y="49.70" width="9.05" height="13.71" fill="#ff1100"/>
<rect x="1156.60" y="63.11" width="9.05" height="13.71" fill="#ec0000"/>
<rect x="1156.60" y="89.93" width="9.05" height="13.71" fill="#7c0000"/>
<rect x="1165.35" y="15.70" width="9.05" height="7.48" fill="#ec0000"/>
<rect x="1165.35" y="22.88" width="9.05" height="13.71" fill="#ff1100"/>
<rect x="1165.35" y="36.29" width="9.05" height="40.53" fill="#ec0000"/>
<rect x="1165.35" y="89.93" width="9.05" height="13.71" fill="#7c0000"/>
<rect x="1174.10" y="15.70" width="9.05" height="34.30" fill="#c50000"/>
<rect x="1174.10" y="49.70" width="9.05" height="13.71" fill="#ec0000"/>
<rect x="1174.10" y="63.11" width="9.05" height="13.71" fill="#c50000"/>
<rect x="1174.10" y="89.93" width="9.05" height="13.71" fill="#190000"/>
<rect x="1182.85" y="15.70" width="9.05" height="20.89" fill="#ffff00"/>
<rect x="1182.85" y="36.29" width="9.05" height="40.53" fill="#c50000"/>
<rect x="1191.60" y="15.70" width="9.05" height="34.30" fill="#c50000"/>
<rect x="1191.60" y="49.70" width="9.05" height="13.71" fill="#590000"/>
<rect x="1191.60" y="63.11" width="9.05" height="13.71" fill="#c50000"/>
<rect x="1200.35" y="15.70" width="9.05" height="7.48" fill="#a00000"/>
<rect x="1200.35" y="22.88" width="9.05" height="27.12" fill="#c50000"/>
<rect x="1200.35" y="49.70" width="9.05" height="13.71" fill="#a00000"/>
<rect x="1200.35" y="63.11" width="9.05" height="13.71" fill="#c50000"/>
<rect x="1200.35" y="76.52" width="9.05" height="13.71" fill="#590000"/>
<rect x="1209.10" y="15.70" width="9.05" height="7.48" fill="#ff1100"/>
<rect x="1209.10" y="22.88" width="9.05" height="13.71" fill="#ec0000"/>
<rect x="1209.10" y="36.29" width="9.05" height="27.12" fill="#ff1100"/>
<rect x="1209.10" y="63.11" width="9.05" height="13.71" fill="#ff5500"/>
<rect x="1217.85" y="15.70" width="9.05" height="7.48" fill="#ec0000"/>
<rect x="1217.85" y="22.88" width="9.05" height="13.71" fill="#c50000"/>
<rect x="1217.85" y="36.29" width="9.05" height="40.53" fill="#ff1100"/>
<rect x="1217.85" y="76.52" width="9.05" height="13.71" fill="#7c0000"/>
<rect x="1217.85" y="89.93" width="9.05" height="13.71" fill="#590000"/>
<rect x="1226.60" y="15.70" width="9.05" height="20.89" fill="#ec0000"/>
<rect x="1226.60" y="36.29" width="9.05" height="40.53" fill="#ff1100"/>
<rect x="1226.60" y="76.52" width="9.05" height="13.71" fill="#c50000"/>
<rect x="1226.60" y="89.93" width="9.05" height="13.71" fill="#7c0000"/>
<rect x="1235.35" y="15.70" width="9.05" height="7.48" fill="#ff5500"/>
<rect x="1235.35" y="22.88" width="9.05" height="13.71" fill="#ec0000"/>
<rect x="1235.35" y="36.29" width="9.05" height="13.71" fill="#ff1100"/>
<rect x="1235.35" y="49.70" width="9.05" height="13.71" fill="#ff3300"/>
<rect x="1235.35" y="63.11" width="9.05" height="13.71" fill="#ff1100"/>
<rect x="1235.35" y="76.52" width="9.05" height="13.71" fill="#7c0000"/>
<rect x="1235.35" y="89.93" width="9.05" height="13.71" fill="#a00000"/>
<rect x="1244.10" y="15.70" width="9.05" height="20.89" fill="#ec0000"/>
<rect x="1244.10" y="36.29" width="9.05" height="40.53" fill="#ff1100"/>
<rect x="1252.85" y="15.70" width="9.05" height="7.48" fill="#ff1100"/>
<rect x="1252.85" y="22.88" width="9.05" height="13.71" fill="#ec0000"/>
<rect x="1252.85" y="36.29" width="9.05" height="13.71" fill="#ff1100"/>
<rect x="1252.85" y="49.70" width="9.05" height="13.71" fill="#ff5500"/>
<rect x="1252.85" y="63.11" width="9.05" height="13.71" fill="#ff1100"/>
<rect x="1261.60" y="15.70" width="9.90" height="7.48" fill="#ff3300"/>
<rect x="1261.60" y="22.88" width="9.90" height="27.12" fill="#ff1100"/>
<rect x="1261.60" y="49.70" width="9.90" height="13.71" fill="#ff7700"/>
<rect x="1261.60" y="63.11" width="9.90" height="13.71" fill="#ff1100"/>
</g></g>
<rect x="649.2" y="15" width="6.0" height="321.7" fill="#0000f0"/>
<rect x="1289.1" y="16.9" width="6.1" height="321.1" fill="#0000f0"/>
<line x1="72.20" y1="18.40" x2="80.40" y2="18.40" stroke="#101010" stroke-width="1.5"/>
<text transform="translate(67.80,24.40) scale(1.0900,1.0000)" font-size="16.60" text-anchor="end" fill="#101010" stroke="#101010" stroke-width="0.35">5</text>
<line x1="72.20" y1="81.50" x2="80.40" y2="81.50" stroke="#101010" stroke-width="1.5"/>
<text transform="translate(67.80,87.50) scale(1.0900,1.0000)" font-size="16.60" text-anchor="end" fill="#101010" stroke="#101010" stroke-width="0.35">0</text>
<line x1="72.20" y1="144.60" x2="80.40" y2="144.60" stroke="#101010" stroke-width="1.5"/>
<text transform="translate(67.80,150.60) scale(1.0900,1.0000)" font-size="16.60" text-anchor="end" fill="#101010" stroke="#101010" stroke-width="0.35">-5</text>
<line x1="72.20" y1="207.70" x2="80.40" y2="207.70" stroke="#101010" stroke-width="1.5"/>
<text transform="translate(67.80,213.70) scale(1.0900,1.0000)" font-size="16.60" text-anchor="end" fill="#101010" stroke="#101010" stroke-width="0.35">-10</text>
<line x1="72.20" y1="270.80" x2="80.40" y2="270.80" stroke="#101010" stroke-width="1.5"/>
<text transform="translate(67.80,276.80) scale(1.0900,1.0000)" font-size="16.60" text-anchor="end" fill="#101010" stroke="#101010" stroke-width="0.35">-15</text>
<line x1="72.20" y1="333.90" x2="80.40" y2="333.90" stroke="#101010" stroke-width="1.5"/>
<text transform="translate(67.80,339.90) scale(1.0900,1.0000)" font-size="16.60" text-anchor="end" fill="#101010" stroke="#101010" stroke-width="0.35">-20</text>
<line x1="85.70" y1="338.90" x2="85.70" y2="346.50" stroke="#101010" stroke-width="1.5"/>
<text transform="translate(86.00,368.30) scale(1.0900,1.0000)" font-size="16.60" text-anchor="middle" fill="#101010" stroke="#101010" stroke-width="0.35">8</text>
<line x1="172.65" y1="338.90" x2="172.65" y2="346.50" stroke="#101010" stroke-width="1.5"/>
<text transform="translate(172.95,368.30) scale(1.0900,1.0000)" font-size="16.60" text-anchor="middle" fill="#101010" stroke="#101010" stroke-width="0.35">9</text>
<line x1="259.60" y1="338.90" x2="259.60" y2="346.50" stroke="#101010" stroke-width="1.5"/>
<text transform="translate(259.90,368.30) scale(1.0900,1.0000)" font-size="16.60" text-anchor="middle" fill="#101010" stroke="#101010" stroke-width="0.35">10</text>
<line x1="346.55" y1="338.90" x2="346.55" y2="346.50" stroke="#101010" stroke-width="1.5"/>
<text transform="translate(346.85,368.30) scale(1.0900,1.0000)" font-size="16.60" text-anchor="middle" fill="#101010" stroke="#101010" stroke-width="0.35">11</text>
<line x1="433.50" y1="338.90" x2="433.50" y2="346.50" stroke="#101010" stroke-width="1.5"/>
<text transform="translate(433.80,368.30) scale(1.0900,1.0000)" font-size="16.60" text-anchor="middle" fill="#101010" stroke="#101010" stroke-width="0.35">12</text>
<line x1="490.40" y1="43.05" x2="498.60" y2="43.05" stroke="#101010" stroke-width="1.5"/>
<text transform="translate(485.50,49.05) scale(1.0900,1.0000)" font-size="16.60" text-anchor="end" fill="#101010" stroke="#101010" stroke-width="0.35">-4</text>
<line x1="490.40" y1="96.70" x2="498.60" y2="96.70" stroke="#101010" stroke-width="1.5"/>
<text transform="translate(485.50,102.70) scale(1.0900,1.0000)" font-size="16.60" text-anchor="end" fill="#101010" stroke="#101010" stroke-width="0.35">-6</text>
<line x1="490.40" y1="150.35" x2="498.60" y2="150.35" stroke="#101010" stroke-width="1.5"/>
<text transform="translate(485.50,156.35) scale(1.0900,1.0000)" font-size="16.60" text-anchor="end" fill="#101010" stroke="#101010" stroke-width="0.35">-8</text>
<line x1="490.40" y1="204.00" x2="498.60" y2="204.00" stroke="#101010" stroke-width="1.5"/>
<text transform="translate(485.50,210.00) scale(1.0900,1.0000)" font-size="16.60" text-anchor="end" fill="#101010" stroke="#101010" stroke-width="0.35">-10</text>
<line x1="490.40" y1="257.65" x2="498.60" y2="257.65" stroke="#101010" stroke-width="1.5"/>
<text transform="translate(485.50,263.65) scale(1.0900,1.0000)" font-size="16.60" text-anchor="end" fill="#101010" stroke="#101010" stroke-width="0.35">-12</text>
<line x1="490.40" y1="311.30" x2="498.60" y2="311.30" stroke="#101010" stroke-width="1.5"/>
<text transform="translate(485.50,317.30) scale(1.0900,1.0000)" font-size="16.60" text-anchor="end" fill="#101010" stroke="#101010" stroke-width="0.35">-14</text>
<line x1="504.40" y1="339.50" x2="504.40" y2="347.40" stroke="#101010" stroke-width="1.5"/>
<text transform="translate(504.40,368.20) scale(1.0900,1.0000)" font-size="16.60" text-anchor="middle" fill="#101010" stroke="#101010" stroke-width="0.35">3.5</text>
<line x1="591.50" y1="339.50" x2="591.50" y2="347.40" stroke="#101010" stroke-width="1.5"/>
<text transform="translate(591.50,368.20) scale(1.0900,1.0000)" font-size="16.60" text-anchor="middle" fill="#101010" stroke="#101010" stroke-width="0.35">4.0</text>
<line x1="678.60" y1="339.50" x2="678.60" y2="347.40" stroke="#101010" stroke-width="1.5"/>
<text transform="translate(678.60,368.20) scale(1.0900,1.0000)" font-size="16.60" text-anchor="middle" fill="#101010" stroke="#101010" stroke-width="0.35">4.5</text>
<line x1="765.70" y1="339.50" x2="765.70" y2="347.40" stroke="#101010" stroke-width="1.5"/>
<text transform="translate(765.70,368.20) scale(1.0900,1.0000)" font-size="16.60" text-anchor="middle" fill="#101010" stroke="#101010" stroke-width="0.35">5.0</text>
<line x1="852.80" y1="339.50" x2="852.80" y2="347.40" stroke="#101010" stroke-width="1.5"/>
<text transform="translate(852.80,368.20) scale(1.0900,1.0000)" font-size="16.60" text-anchor="middle" fill="#101010" stroke="#101010" stroke-width="0.35">5.5</text>
<line x1="902.60" y1="43.35" x2="910.80" y2="43.35" stroke="#101010" stroke-width="1.5"/>
<text transform="translate(897.70,49.35) scale(1.0900,1.0000)" font-size="16.60" text-anchor="end" fill="#101010" stroke="#101010" stroke-width="0.35">-4</text>
<line x1="902.60" y1="97.00" x2="910.80" y2="97.00" stroke="#101010" stroke-width="1.5"/>
<text transform="translate(897.70,103.00) scale(1.0900,1.0000)" font-size="16.60" text-anchor="end" fill="#101010" stroke="#101010" stroke-width="0.35">-6</text>
<line x1="902.60" y1="150.65" x2="910.80" y2="150.65" stroke="#101010" stroke-width="1.5"/>
<text transform="translate(897.70,156.65) scale(1.0900,1.0000)" font-size="16.60" text-anchor="end" fill="#101010" stroke="#101010" stroke-width="0.35">-8</text>
<line x1="902.60" y1="204.30" x2="910.80" y2="204.30" stroke="#101010" stroke-width="1.5"/>
<text transform="translate(897.70,210.30) scale(1.0900,1.0000)" font-size="16.60" text-anchor="end" fill="#101010" stroke="#101010" stroke-width="0.35">-10</text>
<line x1="902.60" y1="257.95" x2="910.80" y2="257.95" stroke="#101010" stroke-width="1.5"/>
<text transform="translate(897.70,263.95) scale(1.0900,1.0000)" font-size="16.60" text-anchor="end" fill="#101010" stroke="#101010" stroke-width="0.35">-12</text>
<line x1="902.60" y1="311.60" x2="910.80" y2="311.60" stroke="#101010" stroke-width="1.5"/>
<text transform="translate(897.70,317.60) scale(1.0900,1.0000)" font-size="16.60" text-anchor="end" fill="#101010" stroke="#101010" stroke-width="0.35">-14</text>
<line x1="916.00" y1="339.70" x2="916.00" y2="347.60" stroke="#101010" stroke-width="1.5"/>
<text transform="translate(916.00,369.40) scale(1.0900,1.0000)" font-size="16.60" text-anchor="middle" fill="#101010" stroke="#101010" stroke-width="0.35">3.5</text>
<line x1="1003.50" y1="339.70" x2="1003.50" y2="347.60" stroke="#101010" stroke-width="1.5"/>
<text transform="translate(1003.50,369.40) scale(1.0900,1.0000)" font-size="16.60" text-anchor="middle" fill="#101010" stroke="#101010" stroke-width="0.35">4.0</text>
<line x1="1091.00" y1="339.70" x2="1091.00" y2="347.60" stroke="#101010" stroke-width="1.5"/>
<text transform="translate(1091.00,369.40) scale(1.0900,1.0000)" font-size="16.60" text-anchor="middle" fill="#101010" stroke="#101010" stroke-width="0.35">4.5</text>
<line x1="1178.50" y1="339.70" x2="1178.50" y2="347.60" stroke="#101010" stroke-width="1.5"/>
<text transform="translate(1178.50,369.40) scale(1.0900,1.0000)" font-size="16.60" text-anchor="middle" fill="#101010" stroke="#101010" stroke-width="0.35">5.0</text>
<line x1="1266.00" y1="339.70" x2="1266.00" y2="347.60" stroke="#101010" stroke-width="1.5"/>
<text transform="translate(1266.00,369.40) scale(1.0900,1.0000)" font-size="16.60" text-anchor="middle" fill="#101010" stroke="#101010" stroke-width="0.35">5.5</text>
<text letter-spacing="1.2" transform="translate(24.60,23.00)" font-size="21.50" text-anchor="start" fill="#101010" stroke="#101010" stroke-width="0.35">a)</text>
<text letter-spacing="1.2" transform="translate(454.60,25.70)" font-size="21.50" text-anchor="start" fill="#101010" stroke="#101010" stroke-width="0.35">b)</text>
<text letter-spacing="1.2" transform="translate(873.80,22.60)" font-size="21.50" text-anchor="start" fill="#101010" stroke="#101010" stroke-width="0.35">c)</text>
<text transform="translate(259.90,391.80) scale(1.1460,1.0000)" font-size="17.60" text-anchor="middle" fill="#101010" stroke="#101010" stroke-width="0.35">Pump Frequency [GHz]</text>
<text transform="translate(676.60,393.20) scale(1.1460,1.0000)" font-size="17.60" text-anchor="middle" fill="#101010" stroke="#101010" stroke-width="0.35">Digitizer Frequency [GHz]</text>
<text transform="translate(1089.00,394.90) scale(1.1390,1.0000)" font-size="17.60" text-anchor="middle" fill="#101010" stroke="#101010" stroke-width="0.35">Digitizer Frequency [GHz]</text>
<text transform="translate(33.00,176.80) rotate(-90)" font-size="19.90" text-anchor="middle" fill="#101010" stroke="#101010" stroke-width="0.35">Pump Power [dBm]</text>
<rect x="511.10" y="297.90" width="118.90" height="33.90" fill="#fff"/><rect x="512.90" y="299.70" width="115.30" height="30.30" fill="none" stroke="#000" stroke-width="1.4"/>
<text transform="translate(515.0,320.0) scale(1.02,1)" font-size="20" fill="#101010" stroke="#101010" stroke-width="0.4">f<tspan font-size="13" dy="5">p</tspan><tspan dy="-5"> = 8.7 GHz</tspan></text>
<rect x="922.60" y="297.10" width="122.30" height="33.90" fill="#fff"/><rect x="924.40" y="298.90" width="118.70" height="30.30" fill="none" stroke="#000" stroke-width="1.4"/>
<text transform="translate(926.6,319.4) scale(1.02,1)" font-size="20" fill="#101010" stroke="#101010" stroke-width="0.4">f<tspan font-size="13" dy="5">p</tspan><tspan dy="-5">= 11.3 GHz</tspan></text>
</svg>
</body></html>
